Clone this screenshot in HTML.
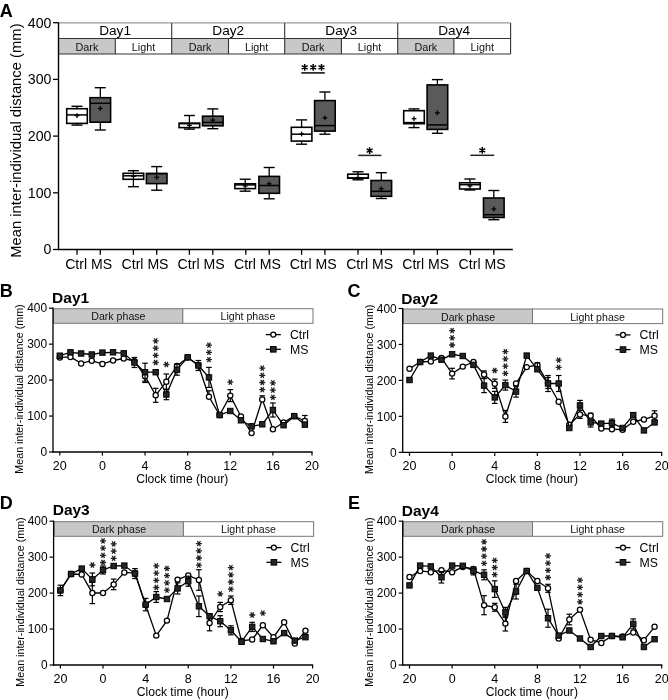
<!DOCTYPE html>
<html><head><meta charset="utf-8"><style>
html,body{margin:0;padding:0;background:#fff;}
svg{display:block;font-family:"Liberation Sans", sans-serif;will-change:transform;}
</style></head><body>
<svg width="668" height="700" viewBox="0 0 668 700" font-family='"Liberation Sans", sans-serif'>
<rect width="668" height="700" fill="#fff"/>
<text x="-0.3" y="16.6" font-size="18" text-anchor="start" font-weight="bold" fill="#000">A</text>
<text transform="translate(21 140.6) rotate(-90)" font-size="14.8" text-anchor="middle">Mean inter-individual distance (mm)</text>
<line x1="53" y1="249.5" x2="58.5" y2="249.5" stroke="#000" stroke-width="1.3"/>
<text x="51.5" y="254.4" font-size="14.2" text-anchor="end" font-weight="normal" fill="#000">0</text>
<line x1="53" y1="192.8" x2="58.5" y2="192.8" stroke="#000" stroke-width="1.3"/>
<text x="51.5" y="197.7" font-size="14.2" text-anchor="end" font-weight="normal" fill="#000">100</text>
<line x1="53" y1="136.1" x2="58.5" y2="136.1" stroke="#000" stroke-width="1.3"/>
<text x="51.5" y="141" font-size="14.2" text-anchor="end" font-weight="normal" fill="#000">200</text>
<line x1="53" y1="79.4" x2="58.5" y2="79.4" stroke="#000" stroke-width="1.3"/>
<text x="51.5" y="84.3" font-size="14.2" text-anchor="end" font-weight="normal" fill="#000">300</text>
<line x1="53" y1="22.7" x2="58.5" y2="22.7" stroke="#000" stroke-width="1.3"/>
<text x="51.5" y="27.6" font-size="14.2" text-anchor="end" font-weight="normal" fill="#000">400</text>
<rect x="58.5" y="38.5" width="56.8" height="15.5" fill="#c8c8c8" stroke="none" stroke-width="1.0"/>
<rect x="171.7" y="38.5" width="56.8" height="15.5" fill="#c8c8c8" stroke="none" stroke-width="1.0"/>
<rect x="284.7" y="38.5" width="56.7" height="15.5" fill="#c8c8c8" stroke="none" stroke-width="1.0"/>
<rect x="397.7" y="38.5" width="56.2" height="15.5" fill="#c8c8c8" stroke="none" stroke-width="1.0"/>
<line x1="58.5" y1="22.9" x2="510.6" y2="22.9" stroke="#9a9a9a" stroke-width="1.2"/>
<line x1="58.5" y1="38.5" x2="510.6" y2="38.5" stroke="#333" stroke-width="1.1"/>
<line x1="58.5" y1="54" x2="510.6" y2="54" stroke="#333" stroke-width="1.1"/>
<line x1="171.7" y1="22.9" x2="171.7" y2="54" stroke="#333" stroke-width="1.1"/>
<line x1="284.7" y1="22.9" x2="284.7" y2="54" stroke="#333" stroke-width="1.1"/>
<line x1="397.7" y1="22.9" x2="397.7" y2="54" stroke="#333" stroke-width="1.1"/>
<line x1="510.6" y1="22.9" x2="510.6" y2="54" stroke="#333" stroke-width="1.1"/>
<line x1="115.3" y1="38.5" x2="115.3" y2="54" stroke="#333" stroke-width="1.1"/>
<line x1="228.5" y1="38.5" x2="228.5" y2="54" stroke="#333" stroke-width="1.1"/>
<line x1="341.4" y1="38.5" x2="341.4" y2="54" stroke="#333" stroke-width="1.1"/>
<line x1="453.9" y1="38.5" x2="453.9" y2="54" stroke="#333" stroke-width="1.1"/>
<text x="115.1" y="34.7" font-size="13.6" text-anchor="middle" font-weight="normal" fill="#000">Day1</text>
<text x="86.9" y="50.6" font-size="10.8" text-anchor="middle" font-weight="normal" fill="#111">Dark</text>
<text x="143.5" y="50.6" font-size="10.8" text-anchor="middle" font-weight="normal" fill="#111">Light</text>
<text x="228.2" y="34.7" font-size="13.6" text-anchor="middle" font-weight="normal" fill="#000">Day2</text>
<text x="200.1" y="50.6" font-size="10.8" text-anchor="middle" font-weight="normal" fill="#111">Dark</text>
<text x="256.6" y="50.6" font-size="10.8" text-anchor="middle" font-weight="normal" fill="#111">Light</text>
<text x="341.2" y="34.7" font-size="13.6" text-anchor="middle" font-weight="normal" fill="#000">Day3</text>
<text x="313.05" y="50.6" font-size="10.8" text-anchor="middle" font-weight="normal" fill="#111">Dark</text>
<text x="369.55" y="50.6" font-size="10.8" text-anchor="middle" font-weight="normal" fill="#111">Light</text>
<text x="454.15" y="34.7" font-size="13.6" text-anchor="middle" font-weight="normal" fill="#000">Day4</text>
<text x="425.8" y="50.6" font-size="10.8" text-anchor="middle" font-weight="normal" fill="#111">Dark</text>
<text x="482.25" y="50.6" font-size="10.8" text-anchor="middle" font-weight="normal" fill="#111">Light</text>
<line x1="58.5" y1="22.3" x2="58.5" y2="250.1" stroke="#000" stroke-width="1.4"/>
<line x1="57.9" y1="249.5" x2="512.8" y2="249.5" stroke="#000" stroke-width="1.4"/>
<line x1="77" y1="249.5" x2="77" y2="254.8" stroke="#000" stroke-width="1.3"/>
<line x1="100.3" y1="249.5" x2="100.3" y2="254.8" stroke="#000" stroke-width="1.3"/>
<line x1="133.4" y1="249.5" x2="133.4" y2="254.8" stroke="#000" stroke-width="1.3"/>
<line x1="156.7" y1="249.5" x2="156.7" y2="254.8" stroke="#000" stroke-width="1.3"/>
<line x1="189.4" y1="249.5" x2="189.4" y2="254.8" stroke="#000" stroke-width="1.3"/>
<line x1="212.8" y1="249.5" x2="212.8" y2="254.8" stroke="#000" stroke-width="1.3"/>
<line x1="245.8" y1="249.5" x2="245.8" y2="254.8" stroke="#000" stroke-width="1.3"/>
<line x1="269.2" y1="249.5" x2="269.2" y2="254.8" stroke="#000" stroke-width="1.3"/>
<line x1="301.6" y1="249.5" x2="301.6" y2="254.8" stroke="#000" stroke-width="1.3"/>
<line x1="324.9" y1="249.5" x2="324.9" y2="254.8" stroke="#000" stroke-width="1.3"/>
<line x1="358" y1="249.5" x2="358" y2="254.8" stroke="#000" stroke-width="1.3"/>
<line x1="381.3" y1="249.5" x2="381.3" y2="254.8" stroke="#000" stroke-width="1.3"/>
<line x1="414" y1="249.5" x2="414" y2="254.8" stroke="#000" stroke-width="1.3"/>
<line x1="437.4" y1="249.5" x2="437.4" y2="254.8" stroke="#000" stroke-width="1.3"/>
<line x1="470.4" y1="249.5" x2="470.4" y2="254.8" stroke="#000" stroke-width="1.3"/>
<line x1="493.8" y1="249.5" x2="493.8" y2="254.8" stroke="#000" stroke-width="1.3"/>
<text x="88.65" y="269.1" font-size="14.1" text-anchor="middle" font-weight="normal" fill="#000">Ctrl MS</text>
<text x="145.05" y="269.1" font-size="14.1" text-anchor="middle" font-weight="normal" fill="#000">Ctrl MS</text>
<text x="201.1" y="269.1" font-size="14.1" text-anchor="middle" font-weight="normal" fill="#000">Ctrl MS</text>
<text x="257.5" y="269.1" font-size="14.1" text-anchor="middle" font-weight="normal" fill="#000">Ctrl MS</text>
<text x="313.25" y="269.1" font-size="14.1" text-anchor="middle" font-weight="normal" fill="#000">Ctrl MS</text>
<text x="369.65" y="269.1" font-size="14.1" text-anchor="middle" font-weight="normal" fill="#000">Ctrl MS</text>
<text x="425.7" y="269.1" font-size="14.1" text-anchor="middle" font-weight="normal" fill="#000">Ctrl MS</text>
<text x="482.1" y="269.1" font-size="14.1" text-anchor="middle" font-weight="normal" fill="#000">Ctrl MS</text>
<line x1="77" y1="106.3" x2="77" y2="108.7" stroke="#000" stroke-width="1.3"/>
<line x1="77" y1="123.4" x2="77" y2="125.1" stroke="#000" stroke-width="1.3"/>
<line x1="71.5" y1="106.3" x2="82.5" y2="106.3" stroke="#000" stroke-width="1.4"/>
<line x1="71.5" y1="125.1" x2="82.5" y2="125.1" stroke="#000" stroke-width="1.4"/>
<rect x="66.7" y="108.7" width="20.6" height="14.7" fill="#fff" stroke="#000" stroke-width="1.6"/>
<line x1="66.7" y1="114.9" x2="87.3" y2="114.9" stroke="#000" stroke-width="1.5"/>
<line x1="74.6" y1="115.6" x2="79.4" y2="115.6" stroke="#000" stroke-width="1.3"/>
<line x1="77" y1="113.2" x2="77" y2="118" stroke="#000" stroke-width="1.3"/>
<line x1="100.3" y1="87.7" x2="100.3" y2="97.7" stroke="#000" stroke-width="1.3"/>
<line x1="100.3" y1="122.2" x2="100.3" y2="130" stroke="#000" stroke-width="1.3"/>
<line x1="94.8" y1="87.7" x2="105.8" y2="87.7" stroke="#000" stroke-width="1.4"/>
<line x1="94.8" y1="130" x2="105.8" y2="130" stroke="#000" stroke-width="1.4"/>
<rect x="90" y="97.7" width="20.6" height="24.5" fill="#5a5a5a" stroke="#000" stroke-width="1.6"/>
<line x1="90" y1="103.3" x2="110.6" y2="103.3" stroke="#000" stroke-width="1.5"/>
<line x1="97.9" y1="108.5" x2="102.7" y2="108.5" stroke="#000" stroke-width="1.3"/>
<line x1="100.3" y1="106.1" x2="100.3" y2="110.9" stroke="#000" stroke-width="1.3"/>
<line x1="133.4" y1="170.7" x2="133.4" y2="173.3" stroke="#000" stroke-width="1.3"/>
<line x1="133.4" y1="179.3" x2="133.4" y2="186.7" stroke="#000" stroke-width="1.3"/>
<line x1="127.9" y1="170.7" x2="138.9" y2="170.7" stroke="#000" stroke-width="1.4"/>
<line x1="127.9" y1="186.7" x2="138.9" y2="186.7" stroke="#000" stroke-width="1.4"/>
<rect x="123.1" y="173.3" width="20.6" height="6" fill="#fff" stroke="#000" stroke-width="1.6"/>
<line x1="123.1" y1="175.8" x2="143.7" y2="175.8" stroke="#000" stroke-width="1.5"/>
<line x1="131" y1="176.4" x2="135.8" y2="176.4" stroke="#000" stroke-width="1.3"/>
<line x1="133.4" y1="174" x2="133.4" y2="178.8" stroke="#000" stroke-width="1.3"/>
<line x1="156.7" y1="166.6" x2="156.7" y2="173.5" stroke="#000" stroke-width="1.3"/>
<line x1="156.7" y1="183.6" x2="156.7" y2="190.2" stroke="#000" stroke-width="1.3"/>
<line x1="151.2" y1="166.6" x2="162.2" y2="166.6" stroke="#000" stroke-width="1.4"/>
<line x1="151.2" y1="190.2" x2="162.2" y2="190.2" stroke="#000" stroke-width="1.4"/>
<rect x="146.4" y="173.5" width="20.6" height="10.1" fill="#5a5a5a" stroke="#000" stroke-width="1.6"/>
<line x1="146.4" y1="173.6" x2="167" y2="173.6" stroke="#000" stroke-width="1.5"/>
<line x1="154.3" y1="177.3" x2="159.1" y2="177.3" stroke="#000" stroke-width="1.3"/>
<line x1="156.7" y1="174.9" x2="156.7" y2="179.7" stroke="#000" stroke-width="1.3"/>
<line x1="189.4" y1="115.5" x2="189.4" y2="123.1" stroke="#000" stroke-width="1.3"/>
<line x1="189.4" y1="127.6" x2="189.4" y2="129.1" stroke="#000" stroke-width="1.3"/>
<line x1="183.9" y1="115.5" x2="194.9" y2="115.5" stroke="#000" stroke-width="1.4"/>
<line x1="183.9" y1="129.1" x2="194.9" y2="129.1" stroke="#000" stroke-width="1.4"/>
<rect x="179.1" y="123.1" width="20.6" height="4.5" fill="#fff" stroke="#000" stroke-width="1.6"/>
<line x1="179.1" y1="123.7" x2="199.7" y2="123.7" stroke="#000" stroke-width="1.5"/>
<line x1="187" y1="125.3" x2="191.8" y2="125.3" stroke="#000" stroke-width="1.3"/>
<line x1="189.4" y1="122.9" x2="189.4" y2="127.7" stroke="#000" stroke-width="1.3"/>
<line x1="212.8" y1="108.9" x2="212.8" y2="116.2" stroke="#000" stroke-width="1.3"/>
<line x1="212.8" y1="125.8" x2="212.8" y2="128.7" stroke="#000" stroke-width="1.3"/>
<line x1="207.3" y1="108.9" x2="218.3" y2="108.9" stroke="#000" stroke-width="1.4"/>
<line x1="207.3" y1="128.7" x2="218.3" y2="128.7" stroke="#000" stroke-width="1.4"/>
<rect x="202.5" y="116.2" width="20.6" height="9.6" fill="#5a5a5a" stroke="#000" stroke-width="1.6"/>
<line x1="202.5" y1="122.4" x2="223.1" y2="122.4" stroke="#000" stroke-width="1.5"/>
<line x1="210.4" y1="120.1" x2="215.2" y2="120.1" stroke="#000" stroke-width="1.3"/>
<line x1="212.8" y1="117.7" x2="212.8" y2="122.5" stroke="#000" stroke-width="1.3"/>
<line x1="245.2" y1="179.2" x2="245.2" y2="183.8" stroke="#000" stroke-width="1.3"/>
<line x1="245.2" y1="188.6" x2="245.2" y2="191.2" stroke="#000" stroke-width="1.3"/>
<line x1="239.7" y1="179.2" x2="250.7" y2="179.2" stroke="#000" stroke-width="1.4"/>
<line x1="239.7" y1="191.2" x2="250.7" y2="191.2" stroke="#000" stroke-width="1.4"/>
<rect x="234.9" y="183.8" width="20.6" height="4.8" fill="#fff" stroke="#000" stroke-width="1.6"/>
<line x1="234.9" y1="184.9" x2="255.5" y2="184.9" stroke="#000" stroke-width="1.5"/>
<line x1="242.8" y1="186" x2="247.6" y2="186" stroke="#000" stroke-width="1.3"/>
<line x1="245.2" y1="183.6" x2="245.2" y2="188.4" stroke="#000" stroke-width="1.3"/>
<line x1="269.2" y1="167.5" x2="269.2" y2="176.4" stroke="#000" stroke-width="1.3"/>
<line x1="269.2" y1="193.3" x2="269.2" y2="198.8" stroke="#000" stroke-width="1.3"/>
<line x1="263.7" y1="167.5" x2="274.7" y2="167.5" stroke="#000" stroke-width="1.4"/>
<line x1="263.7" y1="198.8" x2="274.7" y2="198.8" stroke="#000" stroke-width="1.4"/>
<rect x="258.9" y="176.4" width="20.6" height="16.9" fill="#5a5a5a" stroke="#000" stroke-width="1.6"/>
<line x1="258.9" y1="185.5" x2="279.5" y2="185.5" stroke="#000" stroke-width="1.5"/>
<line x1="266.8" y1="183.8" x2="271.6" y2="183.8" stroke="#000" stroke-width="1.3"/>
<line x1="269.2" y1="181.4" x2="269.2" y2="186.2" stroke="#000" stroke-width="1.3"/>
<line x1="301.6" y1="119.9" x2="301.6" y2="127.3" stroke="#000" stroke-width="1.3"/>
<line x1="301.6" y1="141.1" x2="301.6" y2="144.2" stroke="#000" stroke-width="1.3"/>
<line x1="296.1" y1="119.9" x2="307.1" y2="119.9" stroke="#000" stroke-width="1.4"/>
<line x1="296.1" y1="144.2" x2="307.1" y2="144.2" stroke="#000" stroke-width="1.4"/>
<rect x="291.3" y="127.3" width="20.6" height="13.8" fill="#fff" stroke="#000" stroke-width="1.6"/>
<line x1="291.3" y1="134.2" x2="311.9" y2="134.2" stroke="#000" stroke-width="1.5"/>
<line x1="299.2" y1="134" x2="304" y2="134" stroke="#000" stroke-width="1.3"/>
<line x1="301.6" y1="131.6" x2="301.6" y2="136.4" stroke="#000" stroke-width="1.3"/>
<line x1="324.9" y1="92" x2="324.9" y2="100.6" stroke="#000" stroke-width="1.3"/>
<line x1="324.9" y1="131.1" x2="324.9" y2="134.2" stroke="#000" stroke-width="1.3"/>
<line x1="319.4" y1="92" x2="330.4" y2="92" stroke="#000" stroke-width="1.4"/>
<line x1="319.4" y1="134.2" x2="330.4" y2="134.2" stroke="#000" stroke-width="1.4"/>
<rect x="314.6" y="100.6" width="20.6" height="30.5" fill="#5a5a5a" stroke="#000" stroke-width="1.6"/>
<line x1="314.6" y1="125.6" x2="335.2" y2="125.6" stroke="#000" stroke-width="1.5"/>
<line x1="322.5" y1="117.8" x2="327.3" y2="117.8" stroke="#000" stroke-width="1.3"/>
<line x1="324.9" y1="115.4" x2="324.9" y2="120.2" stroke="#000" stroke-width="1.3"/>
<line x1="358" y1="171.8" x2="358" y2="174.2" stroke="#000" stroke-width="1.3"/>
<line x1="358" y1="178.2" x2="358" y2="179.8" stroke="#000" stroke-width="1.3"/>
<line x1="352.5" y1="171.8" x2="363.5" y2="171.8" stroke="#000" stroke-width="1.4"/>
<line x1="352.5" y1="179.8" x2="363.5" y2="179.8" stroke="#000" stroke-width="1.4"/>
<rect x="347.7" y="174.2" width="20.6" height="4" fill="#fff" stroke="#000" stroke-width="1.6"/>
<line x1="347.7" y1="177.9" x2="368.3" y2="177.9" stroke="#000" stroke-width="1.5"/>
<line x1="355.6" y1="177.5" x2="360.4" y2="177.5" stroke="#000" stroke-width="1.3"/>
<line x1="358" y1="175.1" x2="358" y2="179.9" stroke="#000" stroke-width="1.3"/>
<line x1="381.3" y1="172.7" x2="381.3" y2="180.5" stroke="#000" stroke-width="1.3"/>
<line x1="381.3" y1="196.3" x2="381.3" y2="198.5" stroke="#000" stroke-width="1.3"/>
<line x1="375.8" y1="172.7" x2="386.8" y2="172.7" stroke="#000" stroke-width="1.4"/>
<line x1="375.8" y1="198.5" x2="386.8" y2="198.5" stroke="#000" stroke-width="1.4"/>
<rect x="371" y="180.5" width="20.6" height="15.8" fill="#5a5a5a" stroke="#000" stroke-width="1.6"/>
<line x1="371" y1="191.3" x2="391.6" y2="191.3" stroke="#000" stroke-width="1.5"/>
<line x1="378.9" y1="188.7" x2="383.7" y2="188.7" stroke="#000" stroke-width="1.3"/>
<line x1="381.3" y1="186.3" x2="381.3" y2="191.1" stroke="#000" stroke-width="1.3"/>
<line x1="414" y1="108.9" x2="414" y2="110.7" stroke="#000" stroke-width="1.3"/>
<line x1="414" y1="123.7" x2="414" y2="127.6" stroke="#000" stroke-width="1.3"/>
<line x1="408.5" y1="108.9" x2="419.5" y2="108.9" stroke="#000" stroke-width="1.4"/>
<line x1="408.5" y1="127.6" x2="419.5" y2="127.6" stroke="#000" stroke-width="1.4"/>
<rect x="403.7" y="110.7" width="20.6" height="13" fill="#fff" stroke="#000" stroke-width="1.6"/>
<line x1="403.7" y1="122.6" x2="424.3" y2="122.6" stroke="#000" stroke-width="1.5"/>
<line x1="411.6" y1="118.7" x2="416.4" y2="118.7" stroke="#000" stroke-width="1.3"/>
<line x1="414" y1="116.3" x2="414" y2="121.1" stroke="#000" stroke-width="1.3"/>
<line x1="437.4" y1="79.6" x2="437.4" y2="84.9" stroke="#000" stroke-width="1.3"/>
<line x1="437.4" y1="129.4" x2="437.4" y2="133.3" stroke="#000" stroke-width="1.3"/>
<line x1="431.9" y1="79.6" x2="442.9" y2="79.6" stroke="#000" stroke-width="1.4"/>
<line x1="431.9" y1="133.3" x2="442.9" y2="133.3" stroke="#000" stroke-width="1.4"/>
<rect x="427.1" y="84.9" width="20.6" height="44.5" fill="#5a5a5a" stroke="#000" stroke-width="1.6"/>
<line x1="427.1" y1="124.9" x2="447.7" y2="124.9" stroke="#000" stroke-width="1.5"/>
<line x1="435" y1="112.8" x2="439.8" y2="112.8" stroke="#000" stroke-width="1.3"/>
<line x1="437.4" y1="110.4" x2="437.4" y2="115.2" stroke="#000" stroke-width="1.3"/>
<line x1="469.9" y1="179" x2="469.9" y2="182.8" stroke="#000" stroke-width="1.3"/>
<line x1="469.9" y1="189" x2="469.9" y2="190" stroke="#000" stroke-width="1.3"/>
<line x1="464.4" y1="179" x2="475.4" y2="179" stroke="#000" stroke-width="1.4"/>
<line x1="464.4" y1="190" x2="475.4" y2="190" stroke="#000" stroke-width="1.4"/>
<rect x="459.6" y="182.8" width="20.6" height="6.2" fill="#fff" stroke="#000" stroke-width="1.6"/>
<line x1="459.6" y1="184.7" x2="480.2" y2="184.7" stroke="#000" stroke-width="1.5"/>
<line x1="467.5" y1="186" x2="472.3" y2="186" stroke="#000" stroke-width="1.3"/>
<line x1="469.9" y1="183.6" x2="469.9" y2="188.4" stroke="#000" stroke-width="1.3"/>
<line x1="493.8" y1="190.5" x2="493.8" y2="198" stroke="#000" stroke-width="1.3"/>
<line x1="493.8" y1="217.5" x2="493.8" y2="219.7" stroke="#000" stroke-width="1.3"/>
<line x1="488.3" y1="190.5" x2="499.3" y2="190.5" stroke="#000" stroke-width="1.4"/>
<line x1="488.3" y1="219.7" x2="499.3" y2="219.7" stroke="#000" stroke-width="1.4"/>
<rect x="483.5" y="198" width="20.6" height="19.5" fill="#5a5a5a" stroke="#000" stroke-width="1.6"/>
<line x1="483.5" y1="214.7" x2="504.1" y2="214.7" stroke="#000" stroke-width="1.5"/>
<line x1="491.4" y1="209" x2="496.2" y2="209" stroke="#000" stroke-width="1.3"/>
<line x1="493.8" y1="206.6" x2="493.8" y2="211.4" stroke="#000" stroke-width="1.3"/>
<path d="M304.7 64L304.7 70.8M307.64 65.7L301.76 69.1M307.64 69.1L301.76 65.7" stroke="#000" stroke-width="1.5" fill="none"/>
<path d="M313.2 64L313.2 70.8M316.14 65.7L310.26 69.1M316.14 69.1L310.26 65.7" stroke="#000" stroke-width="1.5" fill="none"/>
<path d="M321.5 64L321.5 70.8M324.44 65.7L318.56 69.1M324.44 69.1L318.56 65.7" stroke="#000" stroke-width="1.5" fill="none"/>
<line x1="301.3" y1="72.9" x2="324.8" y2="72.9" stroke="#222" stroke-width="1.7"/>
<path d="M369.6 147.2L369.6 154M372.54 148.9L366.66 152.3M372.54 152.3L366.66 148.9" stroke="#000" stroke-width="1.5" fill="none"/>
<line x1="358.2" y1="155.4" x2="381.4" y2="155.4" stroke="#222" stroke-width="1.5"/>
<path d="M482.3 147L482.3 153.8M485.24 148.7L479.36 152.1M485.24 152.1L479.36 148.7" stroke="#000" stroke-width="1.5" fill="none"/>
<line x1="470.4" y1="155.3" x2="494.2" y2="155.3" stroke="#222" stroke-width="1.5"/>
<text x="-0.2" y="297" font-size="18" text-anchor="start" font-weight="bold" fill="#000">B</text>
<text x="52.1" y="302.7" font-size="15.5" text-anchor="start" font-weight="bold" fill="#000">Day1</text>
<text transform="translate(23 389) rotate(-90)" font-size="10.7" text-anchor="middle">Mean inter-individual distance (mm)</text>
<rect x="53.6" y="308.7" width="129.2" height="14.6" fill="#c8c8c8" stroke="#777" stroke-width="1.0"/>
<rect x="182.8" y="308.7" width="130.2" height="14.6" fill="#fff" stroke="#777" stroke-width="1.0"/>
<text x="118.4" y="320.3" font-size="10.6" text-anchor="middle" font-weight="normal" fill="#111">Dark phase</text>
<text x="247.9" y="320.3" font-size="10.6" text-anchor="middle" font-weight="normal" fill="#111">Light phase</text>
<line x1="53" y1="307.6" x2="53" y2="452.6" stroke="#000" stroke-width="1.3"/>
<line x1="52.4" y1="452" x2="312.6" y2="452" stroke="#000" stroke-width="1.3"/>
<line x1="49" y1="452" x2="53" y2="452" stroke="#000" stroke-width="1.2"/>
<text x="47" y="456.2" font-size="11.9" text-anchor="end" font-weight="normal" fill="#000">0</text>
<line x1="49" y1="416.05" x2="53" y2="416.05" stroke="#000" stroke-width="1.2"/>
<text x="47" y="420.25" font-size="11.9" text-anchor="end" font-weight="normal" fill="#000">100</text>
<line x1="49" y1="380.1" x2="53" y2="380.1" stroke="#000" stroke-width="1.2"/>
<text x="47" y="384.3" font-size="11.9" text-anchor="end" font-weight="normal" fill="#000">200</text>
<line x1="49" y1="344.15" x2="53" y2="344.15" stroke="#000" stroke-width="1.2"/>
<text x="47" y="348.35" font-size="11.9" text-anchor="end" font-weight="normal" fill="#000">300</text>
<line x1="49" y1="308.2" x2="53" y2="308.2" stroke="#000" stroke-width="1.2"/>
<text x="47" y="312.4" font-size="11.9" text-anchor="end" font-weight="normal" fill="#000">400</text>
<line x1="59.8" y1="452" x2="59.8" y2="455.6" stroke="#000" stroke-width="1.2"/>
<text x="59.8" y="469.5" font-size="12.5" text-anchor="middle" font-weight="normal" fill="#000">20</text>
<line x1="102.42" y1="452" x2="102.42" y2="455.6" stroke="#000" stroke-width="1.2"/>
<text x="102.42" y="469.5" font-size="12.5" text-anchor="middle" font-weight="normal" fill="#000">0</text>
<line x1="145.04" y1="452" x2="145.04" y2="455.6" stroke="#000" stroke-width="1.2"/>
<text x="145.04" y="469.5" font-size="12.5" text-anchor="middle" font-weight="normal" fill="#000">4</text>
<line x1="187.66" y1="452" x2="187.66" y2="455.6" stroke="#000" stroke-width="1.2"/>
<text x="187.66" y="469.5" font-size="12.5" text-anchor="middle" font-weight="normal" fill="#000">8</text>
<line x1="230.28" y1="452" x2="230.28" y2="455.6" stroke="#000" stroke-width="1.2"/>
<text x="230.28" y="469.5" font-size="12.5" text-anchor="middle" font-weight="normal" fill="#000">12</text>
<line x1="272.9" y1="452" x2="272.9" y2="455.6" stroke="#000" stroke-width="1.2"/>
<text x="272.9" y="469.5" font-size="12.5" text-anchor="middle" font-weight="normal" fill="#000">16</text>
<line x1="312" y1="452" x2="312" y2="455.6" stroke="#000" stroke-width="1.2"/>
<text x="312" y="469.5" font-size="12.5" text-anchor="middle" font-weight="normal" fill="#000">20</text>
<text x="182.2" y="483" font-size="12.1" text-anchor="middle" font-weight="normal" fill="#000">Clock time (hour)</text>
<line x1="145.04" y1="369.9" x2="145.04" y2="382.5" stroke="#000" stroke-width="1.2"/>
<line x1="142.24" y1="369.9" x2="147.84" y2="369.9" stroke="#000" stroke-width="1.2"/>
<line x1="142.24" y1="382.5" x2="147.84" y2="382.5" stroke="#000" stroke-width="1.2"/>
<line x1="155.69" y1="388.3" x2="155.69" y2="402.3" stroke="#000" stroke-width="1.2"/>
<line x1="152.89" y1="388.3" x2="158.5" y2="388.3" stroke="#000" stroke-width="1.2"/>
<line x1="152.89" y1="402.3" x2="158.5" y2="402.3" stroke="#000" stroke-width="1.2"/>
<line x1="166.35" y1="374" x2="166.35" y2="389.4" stroke="#000" stroke-width="1.2"/>
<line x1="163.55" y1="374" x2="169.15" y2="374" stroke="#000" stroke-width="1.2"/>
<line x1="163.55" y1="389.4" x2="169.15" y2="389.4" stroke="#000" stroke-width="1.2"/>
<line x1="208.97" y1="390.8" x2="208.97" y2="396.8" stroke="#000" stroke-width="1.2"/>
<line x1="206.17" y1="390.8" x2="211.77" y2="390.8" stroke="#000" stroke-width="1.2"/>
<line x1="230.28" y1="389.6" x2="230.28" y2="401.6" stroke="#000" stroke-width="1.2"/>
<line x1="227.48" y1="389.6" x2="233.08" y2="389.6" stroke="#000" stroke-width="1.2"/>
<line x1="227.48" y1="401.6" x2="233.08" y2="401.6" stroke="#000" stroke-width="1.2"/>
<line x1="262.25" y1="395.8" x2="262.25" y2="399.4" stroke="#000" stroke-width="1.2"/>
<line x1="259.44" y1="395.8" x2="265.05" y2="395.8" stroke="#000" stroke-width="1.2"/>
<line x1="304.87" y1="415.5" x2="304.87" y2="426.5" stroke="#000" stroke-width="1.2"/>
<line x1="302.06" y1="415.5" x2="307.67" y2="415.5" stroke="#000" stroke-width="1.2"/>
<line x1="302.06" y1="426.5" x2="307.67" y2="426.5" stroke="#000" stroke-width="1.2"/>
<polyline points="59.8,357.4 70.45,356.9 81.11,363.4 91.76,360.7 102.42,364 113.07,360.5 123.73,358.5 134.38,361.1 145.04,376.2 155.69,395.3 166.35,381.7 177,365.9 187.66,357.5 198.31,365 208.97,396.8 219.62,415 230.28,395.6 240.94,416.5 251.59,433.1 262.25,399.4 272.9,429.3 283.56,422.5 294.21,416 304.87,421" fill="none" stroke="#000" stroke-width="1.3"/>
<circle cx="59.8" cy="357.4" r="2.6" fill="#fff" stroke="#000" stroke-width="1.25"/>
<circle cx="70.45" cy="356.9" r="2.6" fill="#fff" stroke="#000" stroke-width="1.25"/>
<circle cx="81.11" cy="363.4" r="2.6" fill="#fff" stroke="#000" stroke-width="1.25"/>
<circle cx="91.76" cy="360.7" r="2.6" fill="#fff" stroke="#000" stroke-width="1.25"/>
<circle cx="102.42" cy="364" r="2.6" fill="#fff" stroke="#000" stroke-width="1.25"/>
<circle cx="113.07" cy="360.5" r="2.6" fill="#fff" stroke="#000" stroke-width="1.25"/>
<circle cx="123.73" cy="358.5" r="2.6" fill="#fff" stroke="#000" stroke-width="1.25"/>
<circle cx="134.38" cy="361.1" r="2.6" fill="#fff" stroke="#000" stroke-width="1.25"/>
<circle cx="145.04" cy="376.2" r="2.6" fill="#fff" stroke="#000" stroke-width="1.25"/>
<circle cx="155.69" cy="395.3" r="2.6" fill="#fff" stroke="#000" stroke-width="1.25"/>
<circle cx="166.35" cy="381.7" r="2.6" fill="#fff" stroke="#000" stroke-width="1.25"/>
<circle cx="177" cy="365.9" r="2.6" fill="#fff" stroke="#000" stroke-width="1.25"/>
<circle cx="187.66" cy="357.5" r="2.6" fill="#fff" stroke="#000" stroke-width="1.25"/>
<circle cx="198.31" cy="365" r="2.6" fill="#fff" stroke="#000" stroke-width="1.25"/>
<circle cx="208.97" cy="396.8" r="2.6" fill="#fff" stroke="#000" stroke-width="1.25"/>
<circle cx="219.62" cy="415" r="2.6" fill="#fff" stroke="#000" stroke-width="1.25"/>
<circle cx="230.28" cy="395.6" r="2.6" fill="#fff" stroke="#000" stroke-width="1.25"/>
<circle cx="240.94" cy="416.5" r="2.6" fill="#fff" stroke="#000" stroke-width="1.25"/>
<circle cx="251.59" cy="433.1" r="2.6" fill="#fff" stroke="#000" stroke-width="1.25"/>
<circle cx="262.25" cy="399.4" r="2.6" fill="#fff" stroke="#000" stroke-width="1.25"/>
<circle cx="272.9" cy="429.3" r="2.6" fill="#fff" stroke="#000" stroke-width="1.25"/>
<circle cx="283.56" cy="422.5" r="2.6" fill="#fff" stroke="#000" stroke-width="1.25"/>
<circle cx="294.21" cy="416" r="2.6" fill="#fff" stroke="#000" stroke-width="1.25"/>
<circle cx="304.87" cy="421" r="2.6" fill="#fff" stroke="#000" stroke-width="1.25"/>
<line x1="134.38" y1="357.5" x2="134.38" y2="367.5" stroke="#000" stroke-width="1.2"/>
<line x1="131.58" y1="357.5" x2="137.19" y2="357.5" stroke="#000" stroke-width="1.2"/>
<line x1="131.58" y1="367.5" x2="137.19" y2="367.5" stroke="#000" stroke-width="1.2"/>
<line x1="145.04" y1="363.2" x2="145.04" y2="381.2" stroke="#000" stroke-width="1.2"/>
<line x1="142.24" y1="363.2" x2="147.84" y2="363.2" stroke="#000" stroke-width="1.2"/>
<line x1="142.24" y1="381.2" x2="147.84" y2="381.2" stroke="#000" stroke-width="1.2"/>
<line x1="166.35" y1="389.3" x2="166.35" y2="399.7" stroke="#000" stroke-width="1.2"/>
<line x1="163.55" y1="389.3" x2="169.15" y2="389.3" stroke="#000" stroke-width="1.2"/>
<line x1="163.55" y1="399.7" x2="169.15" y2="399.7" stroke="#000" stroke-width="1.2"/>
<line x1="177" y1="364.2" x2="177" y2="375.2" stroke="#000" stroke-width="1.2"/>
<line x1="174.2" y1="364.2" x2="179.81" y2="364.2" stroke="#000" stroke-width="1.2"/>
<line x1="174.2" y1="375.2" x2="179.81" y2="375.2" stroke="#000" stroke-width="1.2"/>
<line x1="198.31" y1="360.5" x2="198.31" y2="370.5" stroke="#000" stroke-width="1.2"/>
<line x1="195.51" y1="360.5" x2="201.12" y2="360.5" stroke="#000" stroke-width="1.2"/>
<line x1="195.51" y1="370.5" x2="201.12" y2="370.5" stroke="#000" stroke-width="1.2"/>
<line x1="208.97" y1="367.4" x2="208.97" y2="387.4" stroke="#000" stroke-width="1.2"/>
<line x1="206.17" y1="367.4" x2="211.77" y2="367.4" stroke="#000" stroke-width="1.2"/>
<line x1="206.17" y1="387.4" x2="211.77" y2="387.4" stroke="#000" stroke-width="1.2"/>
<line x1="272.9" y1="403" x2="272.9" y2="417" stroke="#000" stroke-width="1.2"/>
<line x1="270.1" y1="403" x2="275.7" y2="403" stroke="#000" stroke-width="1.2"/>
<line x1="270.1" y1="417" x2="275.7" y2="417" stroke="#000" stroke-width="1.2"/>
<polyline points="59.8,355.7 70.45,352.3 81.11,353.5 91.76,354.5 102.42,352.6 113.07,352.3 123.73,353.3 134.38,362.5 145.04,372.2 155.69,372.2 166.35,394.5 177,369.7 187.66,357.3 198.31,365.5 208.97,377.4 219.62,415.1 230.28,411 240.94,420.3 251.59,426.3 262.25,424.3 272.9,410 283.56,425.2 294.21,416.2 304.87,424.6" fill="none" stroke="#000" stroke-width="1.3"/>
<rect x="57.1" y="353" width="5.4" height="5.4" fill="#262626" stroke="#000" stroke-width="1"/>
<rect x="67.75" y="349.6" width="5.4" height="5.4" fill="#262626" stroke="#000" stroke-width="1"/>
<rect x="78.41" y="350.8" width="5.4" height="5.4" fill="#262626" stroke="#000" stroke-width="1"/>
<rect x="89.06" y="351.8" width="5.4" height="5.4" fill="#262626" stroke="#000" stroke-width="1"/>
<rect x="99.72" y="349.9" width="5.4" height="5.4" fill="#262626" stroke="#000" stroke-width="1"/>
<rect x="110.37" y="349.6" width="5.4" height="5.4" fill="#262626" stroke="#000" stroke-width="1"/>
<rect x="121.03" y="350.6" width="5.4" height="5.4" fill="#262626" stroke="#000" stroke-width="1"/>
<rect x="131.69" y="359.8" width="5.4" height="5.4" fill="#262626" stroke="#000" stroke-width="1"/>
<rect x="142.34" y="369.5" width="5.4" height="5.4" fill="#262626" stroke="#000" stroke-width="1"/>
<rect x="153" y="369.5" width="5.4" height="5.4" fill="#262626" stroke="#000" stroke-width="1"/>
<rect x="163.65" y="391.8" width="5.4" height="5.4" fill="#262626" stroke="#000" stroke-width="1"/>
<rect x="174.31" y="367" width="5.4" height="5.4" fill="#262626" stroke="#000" stroke-width="1"/>
<rect x="184.96" y="354.6" width="5.4" height="5.4" fill="#262626" stroke="#000" stroke-width="1"/>
<rect x="195.62" y="362.8" width="5.4" height="5.4" fill="#262626" stroke="#000" stroke-width="1"/>
<rect x="206.27" y="374.7" width="5.4" height="5.4" fill="#262626" stroke="#000" stroke-width="1"/>
<rect x="216.93" y="412.4" width="5.4" height="5.4" fill="#262626" stroke="#000" stroke-width="1"/>
<rect x="227.58" y="408.3" width="5.4" height="5.4" fill="#262626" stroke="#000" stroke-width="1"/>
<rect x="238.24" y="417.6" width="5.4" height="5.4" fill="#262626" stroke="#000" stroke-width="1"/>
<rect x="248.89" y="423.6" width="5.4" height="5.4" fill="#262626" stroke="#000" stroke-width="1"/>
<rect x="259.55" y="421.6" width="5.4" height="5.4" fill="#262626" stroke="#000" stroke-width="1"/>
<rect x="270.2" y="407.3" width="5.4" height="5.4" fill="#262626" stroke="#000" stroke-width="1"/>
<rect x="280.86" y="422.5" width="5.4" height="5.4" fill="#262626" stroke="#000" stroke-width="1"/>
<rect x="291.51" y="413.5" width="5.4" height="5.4" fill="#262626" stroke="#000" stroke-width="1"/>
<rect x="302.17" y="421.9" width="5.4" height="5.4" fill="#262626" stroke="#000" stroke-width="1"/>
<path d="M152.69 340.9L158.69 340.9M154.19 338.3L157.19 343.5M157.19 338.3L154.19 343.5" stroke="#222" stroke-width="1.3" fill="none"/>
<path d="M152.69 348.1L158.69 348.1M154.19 345.5L157.19 350.7M157.19 345.5L154.19 350.7" stroke="#222" stroke-width="1.3" fill="none"/>
<path d="M152.69 355.3L158.69 355.3M154.19 352.7L157.19 357.9M157.19 352.7L154.19 357.9" stroke="#222" stroke-width="1.3" fill="none"/>
<path d="M152.69 362.5L158.69 362.5M154.19 359.9L157.19 365.1M157.19 359.9L154.19 365.1" stroke="#222" stroke-width="1.3" fill="none"/>
<path d="M163.35 364.5L169.35 364.5M164.85 361.9L167.85 367.1M167.85 361.9L164.85 367.1" stroke="#222" stroke-width="1.3" fill="none"/>
<path d="M205.97 345.2L211.97 345.2M207.47 342.6L210.47 347.8M210.47 342.6L207.47 347.8" stroke="#222" stroke-width="1.3" fill="none"/>
<path d="M205.97 352.4L211.97 352.4M207.47 349.8L210.47 355M210.47 349.8L207.47 355" stroke="#222" stroke-width="1.3" fill="none"/>
<path d="M205.97 359.6L211.97 359.6M207.47 357L210.47 362.2M210.47 357L207.47 362.2" stroke="#222" stroke-width="1.3" fill="none"/>
<path d="M227.28 382.2L233.28 382.2M228.78 379.6L231.78 384.8M231.78 379.6L228.78 384.8" stroke="#222" stroke-width="1.3" fill="none"/>
<path d="M259.25 368.1L265.25 368.1M260.75 365.5L263.75 370.7M263.75 365.5L260.75 370.7" stroke="#222" stroke-width="1.3" fill="none"/>
<path d="M259.25 375.3L265.25 375.3M260.75 372.7L263.75 377.9M263.75 372.7L260.75 377.9" stroke="#222" stroke-width="1.3" fill="none"/>
<path d="M259.25 382.5L265.25 382.5M260.75 379.9L263.75 385.1M263.75 379.9L260.75 385.1" stroke="#222" stroke-width="1.3" fill="none"/>
<path d="M259.25 389.7L265.25 389.7M260.75 387.1L263.75 392.3M263.75 387.1L260.75 392.3" stroke="#222" stroke-width="1.3" fill="none"/>
<path d="M269.9 382.9L275.9 382.9M271.4 380.3L274.4 385.5M274.4 380.3L271.4 385.5" stroke="#222" stroke-width="1.3" fill="none"/>
<path d="M269.9 390.1L275.9 390.1M271.4 387.5L274.4 392.7M274.4 387.5L271.4 392.7" stroke="#222" stroke-width="1.3" fill="none"/>
<path d="M269.9 397.3L275.9 397.3M271.4 394.7L274.4 399.9M274.4 394.7L271.4 399.9" stroke="#222" stroke-width="1.3" fill="none"/>
<line x1="265.8" y1="334.6" x2="280.8" y2="334.6" stroke="#000" stroke-width="1.3"/>
<circle cx="273.3" cy="334.6" r="2.5" fill="#fff" stroke="#000" stroke-width="1.3"/>
<line x1="265.8" y1="349.3" x2="280.8" y2="349.3" stroke="#000" stroke-width="1.3"/>
<rect x="270.5" y="346.5" width="5.6" height="5.6" fill="#262626" stroke="#000" stroke-width="1"/>
<text x="289.9" y="338.9" font-size="12.3" text-anchor="start" font-weight="normal" fill="#000">Ctrl</text>
<text x="289.9" y="353.6" font-size="12.3" text-anchor="start" font-weight="normal" fill="#000">MS</text>
<text x="347.4" y="297.4" font-size="18" text-anchor="start" font-weight="bold" fill="#000">C</text>
<text x="401.2" y="303.6" font-size="15.5" text-anchor="start" font-weight="bold" fill="#000">Day2</text>
<text transform="translate(372.7 389.3) rotate(-90)" font-size="10.7" text-anchor="middle">Mean inter-individual distance (mm)</text>
<rect x="403.3" y="309" width="129.2" height="14.6" fill="#c8c8c8" stroke="#777" stroke-width="1.0"/>
<rect x="532.5" y="309" width="130.2" height="14.6" fill="#fff" stroke="#777" stroke-width="1.0"/>
<text x="468.1" y="320.6" font-size="10.6" text-anchor="middle" font-weight="normal" fill="#111">Dark phase</text>
<text x="597.6" y="320.6" font-size="10.6" text-anchor="middle" font-weight="normal" fill="#111">Light phase</text>
<line x1="402.7" y1="307.9" x2="402.7" y2="452.9" stroke="#000" stroke-width="1.3"/>
<line x1="402.1" y1="452.3" x2="662.3" y2="452.3" stroke="#000" stroke-width="1.3"/>
<line x1="398.7" y1="452.3" x2="402.7" y2="452.3" stroke="#000" stroke-width="1.2"/>
<text x="396.7" y="456.5" font-size="11.9" text-anchor="end" font-weight="normal" fill="#000">0</text>
<line x1="398.7" y1="416.35" x2="402.7" y2="416.35" stroke="#000" stroke-width="1.2"/>
<text x="396.7" y="420.55" font-size="11.9" text-anchor="end" font-weight="normal" fill="#000">100</text>
<line x1="398.7" y1="380.4" x2="402.7" y2="380.4" stroke="#000" stroke-width="1.2"/>
<text x="396.7" y="384.6" font-size="11.9" text-anchor="end" font-weight="normal" fill="#000">200</text>
<line x1="398.7" y1="344.45" x2="402.7" y2="344.45" stroke="#000" stroke-width="1.2"/>
<text x="396.7" y="348.65" font-size="11.9" text-anchor="end" font-weight="normal" fill="#000">300</text>
<line x1="398.7" y1="308.5" x2="402.7" y2="308.5" stroke="#000" stroke-width="1.2"/>
<text x="396.7" y="312.7" font-size="11.9" text-anchor="end" font-weight="normal" fill="#000">400</text>
<line x1="409.5" y1="452.3" x2="409.5" y2="455.9" stroke="#000" stroke-width="1.2"/>
<text x="409.5" y="469.8" font-size="12.5" text-anchor="middle" font-weight="normal" fill="#000">20</text>
<line x1="452.12" y1="452.3" x2="452.12" y2="455.9" stroke="#000" stroke-width="1.2"/>
<text x="452.12" y="469.8" font-size="12.5" text-anchor="middle" font-weight="normal" fill="#000">0</text>
<line x1="494.74" y1="452.3" x2="494.74" y2="455.9" stroke="#000" stroke-width="1.2"/>
<text x="494.74" y="469.8" font-size="12.5" text-anchor="middle" font-weight="normal" fill="#000">4</text>
<line x1="537.36" y1="452.3" x2="537.36" y2="455.9" stroke="#000" stroke-width="1.2"/>
<text x="537.36" y="469.8" font-size="12.5" text-anchor="middle" font-weight="normal" fill="#000">8</text>
<line x1="579.98" y1="452.3" x2="579.98" y2="455.9" stroke="#000" stroke-width="1.2"/>
<text x="579.98" y="469.8" font-size="12.5" text-anchor="middle" font-weight="normal" fill="#000">12</text>
<line x1="622.6" y1="452.3" x2="622.6" y2="455.9" stroke="#000" stroke-width="1.2"/>
<text x="622.6" y="469.8" font-size="12.5" text-anchor="middle" font-weight="normal" fill="#000">16</text>
<line x1="661.7" y1="452.3" x2="661.7" y2="455.9" stroke="#000" stroke-width="1.2"/>
<text x="661.7" y="469.8" font-size="12.5" text-anchor="middle" font-weight="normal" fill="#000">20</text>
<text x="531.9" y="483.3" font-size="12.1" text-anchor="middle" font-weight="normal" fill="#000">Clock time (hour)</text>
<line x1="452.12" y1="368.3" x2="452.12" y2="378.9" stroke="#000" stroke-width="1.2"/>
<line x1="449.32" y1="368.3" x2="454.92" y2="368.3" stroke="#000" stroke-width="1.2"/>
<line x1="449.32" y1="378.9" x2="454.92" y2="378.9" stroke="#000" stroke-width="1.2"/>
<line x1="484.08" y1="370.9" x2="484.08" y2="378.1" stroke="#000" stroke-width="1.2"/>
<line x1="481.28" y1="370.9" x2="486.88" y2="370.9" stroke="#000" stroke-width="1.2"/>
<line x1="481.28" y1="378.1" x2="486.88" y2="378.1" stroke="#000" stroke-width="1.2"/>
<line x1="494.74" y1="379.1" x2="494.74" y2="388.3" stroke="#000" stroke-width="1.2"/>
<line x1="491.94" y1="379.1" x2="497.54" y2="379.1" stroke="#000" stroke-width="1.2"/>
<line x1="491.94" y1="388.3" x2="497.54" y2="388.3" stroke="#000" stroke-width="1.2"/>
<line x1="505.39" y1="410.4" x2="505.39" y2="422.4" stroke="#000" stroke-width="1.2"/>
<line x1="502.59" y1="410.4" x2="508.19" y2="410.4" stroke="#000" stroke-width="1.2"/>
<line x1="502.59" y1="422.4" x2="508.19" y2="422.4" stroke="#000" stroke-width="1.2"/>
<line x1="548.01" y1="377.5" x2="548.01" y2="388.5" stroke="#000" stroke-width="1.2"/>
<line x1="545.22" y1="377.5" x2="550.81" y2="377.5" stroke="#000" stroke-width="1.2"/>
<line x1="545.22" y1="388.5" x2="550.81" y2="388.5" stroke="#000" stroke-width="1.2"/>
<line x1="579.98" y1="410.4" x2="579.98" y2="418.4" stroke="#000" stroke-width="1.2"/>
<line x1="577.18" y1="410.4" x2="582.78" y2="410.4" stroke="#000" stroke-width="1.2"/>
<line x1="577.18" y1="418.4" x2="582.78" y2="418.4" stroke="#000" stroke-width="1.2"/>
<line x1="590.63" y1="413.2" x2="590.63" y2="415.8" stroke="#000" stroke-width="1.2"/>
<line x1="587.84" y1="413.2" x2="593.43" y2="413.2" stroke="#000" stroke-width="1.2"/>
<line x1="654.57" y1="410.8" x2="654.57" y2="420.8" stroke="#000" stroke-width="1.2"/>
<line x1="651.77" y1="410.8" x2="657.37" y2="410.8" stroke="#000" stroke-width="1.2"/>
<line x1="651.77" y1="420.8" x2="657.37" y2="420.8" stroke="#000" stroke-width="1.2"/>
<polyline points="409.5,368.8 420.15,362 430.81,361.4 441.46,358 452.12,373.6 462.77,366.6 473.43,362 484.08,374.5 494.74,383.7 505.39,416.4 516.05,383.4 526.71,367.1 537.36,365 548.01,383 558.67,401.8 569.33,424.8 579.98,414.4 590.63,415.8 601.29,428.5 611.94,429.2 622.6,429.7 633.25,421.7 643.91,419.5 654.57,415.8" fill="none" stroke="#000" stroke-width="1.3"/>
<circle cx="409.5" cy="368.8" r="2.6" fill="#fff" stroke="#000" stroke-width="1.25"/>
<circle cx="420.15" cy="362" r="2.6" fill="#fff" stroke="#000" stroke-width="1.25"/>
<circle cx="430.81" cy="361.4" r="2.6" fill="#fff" stroke="#000" stroke-width="1.25"/>
<circle cx="441.46" cy="358" r="2.6" fill="#fff" stroke="#000" stroke-width="1.25"/>
<circle cx="452.12" cy="373.6" r="2.6" fill="#fff" stroke="#000" stroke-width="1.25"/>
<circle cx="462.77" cy="366.6" r="2.6" fill="#fff" stroke="#000" stroke-width="1.25"/>
<circle cx="473.43" cy="362" r="2.6" fill="#fff" stroke="#000" stroke-width="1.25"/>
<circle cx="484.08" cy="374.5" r="2.6" fill="#fff" stroke="#000" stroke-width="1.25"/>
<circle cx="494.74" cy="383.7" r="2.6" fill="#fff" stroke="#000" stroke-width="1.25"/>
<circle cx="505.39" cy="416.4" r="2.6" fill="#fff" stroke="#000" stroke-width="1.25"/>
<circle cx="516.05" cy="383.4" r="2.6" fill="#fff" stroke="#000" stroke-width="1.25"/>
<circle cx="526.71" cy="367.1" r="2.6" fill="#fff" stroke="#000" stroke-width="1.25"/>
<circle cx="537.36" cy="365" r="2.6" fill="#fff" stroke="#000" stroke-width="1.25"/>
<circle cx="548.01" cy="383" r="2.6" fill="#fff" stroke="#000" stroke-width="1.25"/>
<circle cx="558.67" cy="401.8" r="2.6" fill="#fff" stroke="#000" stroke-width="1.25"/>
<circle cx="569.33" cy="424.8" r="2.6" fill="#fff" stroke="#000" stroke-width="1.25"/>
<circle cx="579.98" cy="414.4" r="2.6" fill="#fff" stroke="#000" stroke-width="1.25"/>
<circle cx="590.63" cy="415.8" r="2.6" fill="#fff" stroke="#000" stroke-width="1.25"/>
<circle cx="601.29" cy="428.5" r="2.6" fill="#fff" stroke="#000" stroke-width="1.25"/>
<circle cx="611.94" cy="429.2" r="2.6" fill="#fff" stroke="#000" stroke-width="1.25"/>
<circle cx="622.6" cy="429.7" r="2.6" fill="#fff" stroke="#000" stroke-width="1.25"/>
<circle cx="633.25" cy="421.7" r="2.6" fill="#fff" stroke="#000" stroke-width="1.25"/>
<circle cx="643.91" cy="419.5" r="2.6" fill="#fff" stroke="#000" stroke-width="1.25"/>
<circle cx="654.57" cy="415.8" r="2.6" fill="#fff" stroke="#000" stroke-width="1.25"/>
<line x1="484.08" y1="378.6" x2="484.08" y2="392.6" stroke="#000" stroke-width="1.2"/>
<line x1="481.28" y1="378.6" x2="486.88" y2="378.6" stroke="#000" stroke-width="1.2"/>
<line x1="481.28" y1="392.6" x2="486.88" y2="392.6" stroke="#000" stroke-width="1.2"/>
<line x1="494.74" y1="391.4" x2="494.74" y2="403.4" stroke="#000" stroke-width="1.2"/>
<line x1="491.94" y1="391.4" x2="497.54" y2="391.4" stroke="#000" stroke-width="1.2"/>
<line x1="491.94" y1="403.4" x2="497.54" y2="403.4" stroke="#000" stroke-width="1.2"/>
<line x1="505.39" y1="380.1" x2="505.39" y2="390.1" stroke="#000" stroke-width="1.2"/>
<line x1="502.59" y1="380.1" x2="508.19" y2="380.1" stroke="#000" stroke-width="1.2"/>
<line x1="502.59" y1="390.1" x2="508.19" y2="390.1" stroke="#000" stroke-width="1.2"/>
<line x1="516.05" y1="386.1" x2="516.05" y2="397.1" stroke="#000" stroke-width="1.2"/>
<line x1="513.25" y1="386.1" x2="518.85" y2="386.1" stroke="#000" stroke-width="1.2"/>
<line x1="513.25" y1="397.1" x2="518.85" y2="397.1" stroke="#000" stroke-width="1.2"/>
<line x1="537.36" y1="362.8" x2="537.36" y2="369.3" stroke="#000" stroke-width="1.2"/>
<line x1="534.56" y1="362.8" x2="540.16" y2="362.8" stroke="#000" stroke-width="1.2"/>
<line x1="548.01" y1="375.5" x2="548.01" y2="391.5" stroke="#000" stroke-width="1.2"/>
<line x1="545.22" y1="375.5" x2="550.81" y2="375.5" stroke="#000" stroke-width="1.2"/>
<line x1="545.22" y1="391.5" x2="550.81" y2="391.5" stroke="#000" stroke-width="1.2"/>
<line x1="558.67" y1="375.5" x2="558.67" y2="391.5" stroke="#000" stroke-width="1.2"/>
<line x1="555.87" y1="375.5" x2="561.47" y2="375.5" stroke="#000" stroke-width="1.2"/>
<line x1="555.87" y1="391.5" x2="561.47" y2="391.5" stroke="#000" stroke-width="1.2"/>
<line x1="579.98" y1="400.4" x2="579.98" y2="410.4" stroke="#000" stroke-width="1.2"/>
<line x1="577.18" y1="400.4" x2="582.78" y2="400.4" stroke="#000" stroke-width="1.2"/>
<line x1="577.18" y1="410.4" x2="582.78" y2="410.4" stroke="#000" stroke-width="1.2"/>
<line x1="590.63" y1="422.4" x2="590.63" y2="427" stroke="#000" stroke-width="1.2"/>
<line x1="587.84" y1="427" x2="593.43" y2="427" stroke="#000" stroke-width="1.2"/>
<line x1="611.94" y1="419.1" x2="611.94" y2="427.1" stroke="#000" stroke-width="1.2"/>
<line x1="609.14" y1="419.1" x2="614.74" y2="419.1" stroke="#000" stroke-width="1.2"/>
<line x1="609.14" y1="427.1" x2="614.74" y2="427.1" stroke="#000" stroke-width="1.2"/>
<polyline points="409.5,380 420.15,362 430.81,355.6 441.46,359.7 452.12,354.3 462.77,356 473.43,364.9 484.08,385.6 494.74,397.4 505.39,385.1 516.05,391.6 526.71,355.6 537.36,369.3 548.01,383.5 558.67,383.5 569.33,428 579.98,405.4 590.63,422.4 601.29,423.6 611.94,423.1 622.6,428 633.25,415.1 643.91,430.4 654.57,422.4" fill="none" stroke="#000" stroke-width="1.3"/>
<rect x="406.8" y="377.3" width="5.4" height="5.4" fill="#262626" stroke="#000" stroke-width="1"/>
<rect x="417.45" y="359.3" width="5.4" height="5.4" fill="#262626" stroke="#000" stroke-width="1"/>
<rect x="428.11" y="352.9" width="5.4" height="5.4" fill="#262626" stroke="#000" stroke-width="1"/>
<rect x="438.76" y="357" width="5.4" height="5.4" fill="#262626" stroke="#000" stroke-width="1"/>
<rect x="449.42" y="351.6" width="5.4" height="5.4" fill="#262626" stroke="#000" stroke-width="1"/>
<rect x="460.07" y="353.3" width="5.4" height="5.4" fill="#262626" stroke="#000" stroke-width="1"/>
<rect x="470.73" y="362.2" width="5.4" height="5.4" fill="#262626" stroke="#000" stroke-width="1"/>
<rect x="481.38" y="382.9" width="5.4" height="5.4" fill="#262626" stroke="#000" stroke-width="1"/>
<rect x="492.04" y="394.7" width="5.4" height="5.4" fill="#262626" stroke="#000" stroke-width="1"/>
<rect x="502.69" y="382.4" width="5.4" height="5.4" fill="#262626" stroke="#000" stroke-width="1"/>
<rect x="513.35" y="388.9" width="5.4" height="5.4" fill="#262626" stroke="#000" stroke-width="1"/>
<rect x="524" y="352.9" width="5.4" height="5.4" fill="#262626" stroke="#000" stroke-width="1"/>
<rect x="534.66" y="366.6" width="5.4" height="5.4" fill="#262626" stroke="#000" stroke-width="1"/>
<rect x="545.31" y="380.8" width="5.4" height="5.4" fill="#262626" stroke="#000" stroke-width="1"/>
<rect x="555.97" y="380.8" width="5.4" height="5.4" fill="#262626" stroke="#000" stroke-width="1"/>
<rect x="566.62" y="425.3" width="5.4" height="5.4" fill="#262626" stroke="#000" stroke-width="1"/>
<rect x="577.28" y="402.7" width="5.4" height="5.4" fill="#262626" stroke="#000" stroke-width="1"/>
<rect x="587.93" y="419.7" width="5.4" height="5.4" fill="#262626" stroke="#000" stroke-width="1"/>
<rect x="598.59" y="420.9" width="5.4" height="5.4" fill="#262626" stroke="#000" stroke-width="1"/>
<rect x="609.24" y="420.4" width="5.4" height="5.4" fill="#262626" stroke="#000" stroke-width="1"/>
<rect x="619.9" y="425.3" width="5.4" height="5.4" fill="#262626" stroke="#000" stroke-width="1"/>
<rect x="630.55" y="412.4" width="5.4" height="5.4" fill="#262626" stroke="#000" stroke-width="1"/>
<rect x="641.21" y="427.7" width="5.4" height="5.4" fill="#262626" stroke="#000" stroke-width="1"/>
<rect x="651.87" y="419.7" width="5.4" height="5.4" fill="#262626" stroke="#000" stroke-width="1"/>
<path d="M449.12 330.6L455.12 330.6M450.62 328L453.62 333.2M453.62 328L450.62 333.2" stroke="#222" stroke-width="1.3" fill="none"/>
<path d="M449.12 337.8L455.12 337.8M450.62 335.2L453.62 340.4M453.62 335.2L450.62 340.4" stroke="#222" stroke-width="1.3" fill="none"/>
<path d="M449.12 345L455.12 345M450.62 342.4L453.62 347.6M453.62 342.4L450.62 347.6" stroke="#222" stroke-width="1.3" fill="none"/>
<path d="M491.74 370.5L497.74 370.5M493.24 367.9L496.24 373.1M496.24 367.9L493.24 373.1" stroke="#222" stroke-width="1.3" fill="none"/>
<path d="M502.39 351.7L508.39 351.7M503.89 349.1L506.89 354.3M506.89 349.1L503.89 354.3" stroke="#222" stroke-width="1.3" fill="none"/>
<path d="M502.39 358.9L508.39 358.9M503.89 356.3L506.89 361.5M506.89 356.3L503.89 361.5" stroke="#222" stroke-width="1.3" fill="none"/>
<path d="M502.39 366.1L508.39 366.1M503.89 363.5L506.89 368.7M506.89 363.5L503.89 368.7" stroke="#222" stroke-width="1.3" fill="none"/>
<path d="M502.39 373.3L508.39 373.3M503.89 370.7L506.89 375.9M506.89 370.7L503.89 375.9" stroke="#222" stroke-width="1.3" fill="none"/>
<path d="M555.67 360.2L561.67 360.2M557.17 357.6L560.17 362.8M560.17 357.6L557.17 362.8" stroke="#222" stroke-width="1.3" fill="none"/>
<path d="M555.67 367.4L561.67 367.4M557.17 364.8L560.17 370M560.17 364.8L557.17 370" stroke="#222" stroke-width="1.3" fill="none"/>
<line x1="615.5" y1="334.9" x2="630.5" y2="334.9" stroke="#000" stroke-width="1.3"/>
<circle cx="623" cy="334.9" r="2.5" fill="#fff" stroke="#000" stroke-width="1.3"/>
<line x1="615.5" y1="349.6" x2="630.5" y2="349.6" stroke="#000" stroke-width="1.3"/>
<rect x="620.2" y="346.8" width="5.6" height="5.6" fill="#262626" stroke="#000" stroke-width="1"/>
<text x="639.6" y="339.2" font-size="12.3" text-anchor="start" font-weight="normal" fill="#000">Ctrl</text>
<text x="639.6" y="353.9" font-size="12.3" text-anchor="start" font-weight="normal" fill="#000">MS</text>
<text x="-0.2" y="509.4" font-size="18" text-anchor="start" font-weight="bold" fill="#000">D</text>
<text x="52.7" y="514.7" font-size="15.5" text-anchor="start" font-weight="bold" fill="#000">Day3</text>
<text transform="translate(23.6 602) rotate(-90)" font-size="10.7" text-anchor="middle">Mean inter-individual distance (mm)</text>
<rect x="54.2" y="521.7" width="129.2" height="14.6" fill="#c8c8c8" stroke="#777" stroke-width="1.0"/>
<rect x="183.4" y="521.7" width="130.2" height="14.6" fill="#fff" stroke="#777" stroke-width="1.0"/>
<text x="119" y="533.3" font-size="10.6" text-anchor="middle" font-weight="normal" fill="#111">Dark phase</text>
<text x="248.5" y="533.3" font-size="10.6" text-anchor="middle" font-weight="normal" fill="#111">Light phase</text>
<line x1="53.6" y1="520.6" x2="53.6" y2="665.6" stroke="#000" stroke-width="1.3"/>
<line x1="53" y1="665" x2="313.2" y2="665" stroke="#000" stroke-width="1.3"/>
<line x1="49.6" y1="665" x2="53.6" y2="665" stroke="#000" stroke-width="1.2"/>
<text x="47.6" y="669.2" font-size="11.9" text-anchor="end" font-weight="normal" fill="#000">0</text>
<line x1="49.6" y1="629.05" x2="53.6" y2="629.05" stroke="#000" stroke-width="1.2"/>
<text x="47.6" y="633.25" font-size="11.9" text-anchor="end" font-weight="normal" fill="#000">100</text>
<line x1="49.6" y1="593.1" x2="53.6" y2="593.1" stroke="#000" stroke-width="1.2"/>
<text x="47.6" y="597.3" font-size="11.9" text-anchor="end" font-weight="normal" fill="#000">200</text>
<line x1="49.6" y1="557.15" x2="53.6" y2="557.15" stroke="#000" stroke-width="1.2"/>
<text x="47.6" y="561.35" font-size="11.9" text-anchor="end" font-weight="normal" fill="#000">300</text>
<line x1="49.6" y1="521.2" x2="53.6" y2="521.2" stroke="#000" stroke-width="1.2"/>
<text x="47.6" y="525.4" font-size="11.9" text-anchor="end" font-weight="normal" fill="#000">400</text>
<line x1="60.4" y1="665" x2="60.4" y2="668.6" stroke="#000" stroke-width="1.2"/>
<text x="60.4" y="682.5" font-size="12.5" text-anchor="middle" font-weight="normal" fill="#000">20</text>
<line x1="103.02" y1="665" x2="103.02" y2="668.6" stroke="#000" stroke-width="1.2"/>
<text x="103.02" y="682.5" font-size="12.5" text-anchor="middle" font-weight="normal" fill="#000">0</text>
<line x1="145.64" y1="665" x2="145.64" y2="668.6" stroke="#000" stroke-width="1.2"/>
<text x="145.64" y="682.5" font-size="12.5" text-anchor="middle" font-weight="normal" fill="#000">4</text>
<line x1="188.26" y1="665" x2="188.26" y2="668.6" stroke="#000" stroke-width="1.2"/>
<text x="188.26" y="682.5" font-size="12.5" text-anchor="middle" font-weight="normal" fill="#000">8</text>
<line x1="230.88" y1="665" x2="230.88" y2="668.6" stroke="#000" stroke-width="1.2"/>
<text x="230.88" y="682.5" font-size="12.5" text-anchor="middle" font-weight="normal" fill="#000">12</text>
<line x1="273.5" y1="665" x2="273.5" y2="668.6" stroke="#000" stroke-width="1.2"/>
<text x="273.5" y="682.5" font-size="12.5" text-anchor="middle" font-weight="normal" fill="#000">16</text>
<line x1="312.6" y1="665" x2="312.6" y2="668.6" stroke="#000" stroke-width="1.2"/>
<text x="312.6" y="682.5" font-size="12.5" text-anchor="middle" font-weight="normal" fill="#000">20</text>
<text x="182.8" y="696" font-size="12.1" text-anchor="middle" font-weight="normal" fill="#000">Clock time (hour)</text>
<line x1="92.36" y1="582.4" x2="92.36" y2="603.6" stroke="#000" stroke-width="1.2"/>
<line x1="89.56" y1="582.4" x2="95.16" y2="582.4" stroke="#000" stroke-width="1.2"/>
<line x1="89.56" y1="603.6" x2="95.16" y2="603.6" stroke="#000" stroke-width="1.2"/>
<line x1="113.67" y1="579.1" x2="113.67" y2="589.7" stroke="#000" stroke-width="1.2"/>
<line x1="110.88" y1="579.1" x2="116.47" y2="579.1" stroke="#000" stroke-width="1.2"/>
<line x1="110.88" y1="589.7" x2="116.47" y2="589.7" stroke="#000" stroke-width="1.2"/>
<line x1="198.91" y1="569.7" x2="198.91" y2="590.3" stroke="#000" stroke-width="1.2"/>
<line x1="196.11" y1="569.7" x2="201.72" y2="569.7" stroke="#000" stroke-width="1.2"/>
<line x1="196.11" y1="590.3" x2="201.72" y2="590.3" stroke="#000" stroke-width="1.2"/>
<line x1="209.57" y1="615.2" x2="209.57" y2="630.8" stroke="#000" stroke-width="1.2"/>
<line x1="206.77" y1="615.2" x2="212.37" y2="615.2" stroke="#000" stroke-width="1.2"/>
<line x1="206.77" y1="630.8" x2="212.37" y2="630.8" stroke="#000" stroke-width="1.2"/>
<line x1="220.22" y1="602.4" x2="220.22" y2="611.6" stroke="#000" stroke-width="1.2"/>
<line x1="217.42" y1="602.4" x2="223.03" y2="602.4" stroke="#000" stroke-width="1.2"/>
<line x1="217.42" y1="611.6" x2="223.03" y2="611.6" stroke="#000" stroke-width="1.2"/>
<line x1="230.88" y1="596" x2="230.88" y2="604.4" stroke="#000" stroke-width="1.2"/>
<line x1="228.08" y1="596" x2="233.68" y2="596" stroke="#000" stroke-width="1.2"/>
<line x1="228.08" y1="604.4" x2="233.68" y2="604.4" stroke="#000" stroke-width="1.2"/>
<polyline points="60.4,590.4 71.05,574 81.71,574.4 92.36,593 103.02,593 113.67,584.4 124.33,572.4 134.98,573 145.64,605 156.29,635.6 166.95,620.6 177.6,579.6 188.26,575.5 198.91,580 209.57,623 220.22,607 230.88,600.2 241.53,641 252.19,639.5 262.84,625.3 273.5,637.2 284.15,622.3 294.81,643.6 305.46,630.8" fill="none" stroke="#000" stroke-width="1.3"/>
<circle cx="60.4" cy="590.4" r="2.6" fill="#fff" stroke="#000" stroke-width="1.25"/>
<circle cx="71.05" cy="574" r="2.6" fill="#fff" stroke="#000" stroke-width="1.25"/>
<circle cx="81.71" cy="574.4" r="2.6" fill="#fff" stroke="#000" stroke-width="1.25"/>
<circle cx="92.36" cy="593" r="2.6" fill="#fff" stroke="#000" stroke-width="1.25"/>
<circle cx="103.02" cy="593" r="2.6" fill="#fff" stroke="#000" stroke-width="1.25"/>
<circle cx="113.67" cy="584.4" r="2.6" fill="#fff" stroke="#000" stroke-width="1.25"/>
<circle cx="124.33" cy="572.4" r="2.6" fill="#fff" stroke="#000" stroke-width="1.25"/>
<circle cx="134.98" cy="573" r="2.6" fill="#fff" stroke="#000" stroke-width="1.25"/>
<circle cx="145.64" cy="605" r="2.6" fill="#fff" stroke="#000" stroke-width="1.25"/>
<circle cx="156.29" cy="635.6" r="2.6" fill="#fff" stroke="#000" stroke-width="1.25"/>
<circle cx="166.95" cy="620.6" r="2.6" fill="#fff" stroke="#000" stroke-width="1.25"/>
<circle cx="177.6" cy="579.6" r="2.6" fill="#fff" stroke="#000" stroke-width="1.25"/>
<circle cx="188.26" cy="575.5" r="2.6" fill="#fff" stroke="#000" stroke-width="1.25"/>
<circle cx="198.91" cy="580" r="2.6" fill="#fff" stroke="#000" stroke-width="1.25"/>
<circle cx="209.57" cy="623" r="2.6" fill="#fff" stroke="#000" stroke-width="1.25"/>
<circle cx="220.22" cy="607" r="2.6" fill="#fff" stroke="#000" stroke-width="1.25"/>
<circle cx="230.88" cy="600.2" r="2.6" fill="#fff" stroke="#000" stroke-width="1.25"/>
<circle cx="241.53" cy="641" r="2.6" fill="#fff" stroke="#000" stroke-width="1.25"/>
<circle cx="252.19" cy="639.5" r="2.6" fill="#fff" stroke="#000" stroke-width="1.25"/>
<circle cx="262.84" cy="625.3" r="2.6" fill="#fff" stroke="#000" stroke-width="1.25"/>
<circle cx="273.5" cy="637.2" r="2.6" fill="#fff" stroke="#000" stroke-width="1.25"/>
<circle cx="284.15" cy="622.3" r="2.6" fill="#fff" stroke="#000" stroke-width="1.25"/>
<circle cx="294.81" cy="643.6" r="2.6" fill="#fff" stroke="#000" stroke-width="1.25"/>
<circle cx="305.46" cy="630.8" r="2.6" fill="#fff" stroke="#000" stroke-width="1.25"/>
<line x1="60.4" y1="585.2" x2="60.4" y2="595.6" stroke="#000" stroke-width="1.2"/>
<line x1="57.6" y1="585.2" x2="63.2" y2="585.2" stroke="#000" stroke-width="1.2"/>
<line x1="57.6" y1="595.6" x2="63.2" y2="595.6" stroke="#000" stroke-width="1.2"/>
<line x1="92.36" y1="573" x2="92.36" y2="585.8" stroke="#000" stroke-width="1.2"/>
<line x1="89.56" y1="573" x2="95.16" y2="573" stroke="#000" stroke-width="1.2"/>
<line x1="89.56" y1="585.8" x2="95.16" y2="585.8" stroke="#000" stroke-width="1.2"/>
<line x1="103.02" y1="566" x2="103.02" y2="574" stroke="#000" stroke-width="1.2"/>
<line x1="100.22" y1="566" x2="105.82" y2="566" stroke="#000" stroke-width="1.2"/>
<line x1="100.22" y1="574" x2="105.82" y2="574" stroke="#000" stroke-width="1.2"/>
<line x1="134.98" y1="568.6" x2="134.98" y2="578.6" stroke="#000" stroke-width="1.2"/>
<line x1="132.18" y1="568.6" x2="137.78" y2="568.6" stroke="#000" stroke-width="1.2"/>
<line x1="132.18" y1="578.6" x2="137.78" y2="578.6" stroke="#000" stroke-width="1.2"/>
<line x1="145.64" y1="598.4" x2="145.64" y2="610.8" stroke="#000" stroke-width="1.2"/>
<line x1="142.84" y1="598.4" x2="148.44" y2="598.4" stroke="#000" stroke-width="1.2"/>
<line x1="142.84" y1="610.8" x2="148.44" y2="610.8" stroke="#000" stroke-width="1.2"/>
<line x1="156.29" y1="591.6" x2="156.29" y2="602.4" stroke="#000" stroke-width="1.2"/>
<line x1="153.49" y1="591.6" x2="159.09" y2="591.6" stroke="#000" stroke-width="1.2"/>
<line x1="153.49" y1="602.4" x2="159.09" y2="602.4" stroke="#000" stroke-width="1.2"/>
<line x1="177.6" y1="582.8" x2="177.6" y2="594" stroke="#000" stroke-width="1.2"/>
<line x1="174.8" y1="582.8" x2="180.41" y2="582.8" stroke="#000" stroke-width="1.2"/>
<line x1="174.8" y1="594" x2="180.41" y2="594" stroke="#000" stroke-width="1.2"/>
<line x1="188.26" y1="576.2" x2="188.26" y2="586.2" stroke="#000" stroke-width="1.2"/>
<line x1="185.46" y1="576.2" x2="191.06" y2="576.2" stroke="#000" stroke-width="1.2"/>
<line x1="185.46" y1="586.2" x2="191.06" y2="586.2" stroke="#000" stroke-width="1.2"/>
<line x1="198.91" y1="596" x2="198.91" y2="616.6" stroke="#000" stroke-width="1.2"/>
<line x1="196.11" y1="596" x2="201.72" y2="596" stroke="#000" stroke-width="1.2"/>
<line x1="196.11" y1="616.6" x2="201.72" y2="616.6" stroke="#000" stroke-width="1.2"/>
<line x1="220.22" y1="615.7" x2="220.22" y2="626.7" stroke="#000" stroke-width="1.2"/>
<line x1="217.42" y1="615.7" x2="223.03" y2="615.7" stroke="#000" stroke-width="1.2"/>
<line x1="217.42" y1="626.7" x2="223.03" y2="626.7" stroke="#000" stroke-width="1.2"/>
<line x1="230.88" y1="625.8" x2="230.88" y2="634.8" stroke="#000" stroke-width="1.2"/>
<line x1="228.08" y1="625.8" x2="233.68" y2="625.8" stroke="#000" stroke-width="1.2"/>
<line x1="228.08" y1="634.8" x2="233.68" y2="634.8" stroke="#000" stroke-width="1.2"/>
<line x1="252.19" y1="622.3" x2="252.19" y2="631.5" stroke="#000" stroke-width="1.2"/>
<line x1="249.39" y1="622.3" x2="254.99" y2="622.3" stroke="#000" stroke-width="1.2"/>
<line x1="249.39" y1="631.5" x2="254.99" y2="631.5" stroke="#000" stroke-width="1.2"/>
<polyline points="60.4,590.4 71.05,574 81.71,568.6 92.36,579.4 103.02,570 113.67,566 124.33,565.6 134.98,573.6 145.64,604.6 156.29,597 166.95,599 177.6,588.4 188.26,581.2 198.91,606.3 209.57,616.2 220.22,621.2 230.88,630.3 241.53,641.8 252.19,626.9 262.84,639 273.5,641.3 284.15,633.1 294.81,640.6 305.46,637.2" fill="none" stroke="#000" stroke-width="1.3"/>
<rect x="57.7" y="587.7" width="5.4" height="5.4" fill="#262626" stroke="#000" stroke-width="1"/>
<rect x="68.35" y="571.3" width="5.4" height="5.4" fill="#262626" stroke="#000" stroke-width="1"/>
<rect x="79.01" y="565.9" width="5.4" height="5.4" fill="#262626" stroke="#000" stroke-width="1"/>
<rect x="89.66" y="576.7" width="5.4" height="5.4" fill="#262626" stroke="#000" stroke-width="1"/>
<rect x="100.32" y="567.3" width="5.4" height="5.4" fill="#262626" stroke="#000" stroke-width="1"/>
<rect x="110.97" y="563.3" width="5.4" height="5.4" fill="#262626" stroke="#000" stroke-width="1"/>
<rect x="121.63" y="562.9" width="5.4" height="5.4" fill="#262626" stroke="#000" stroke-width="1"/>
<rect x="132.28" y="570.9" width="5.4" height="5.4" fill="#262626" stroke="#000" stroke-width="1"/>
<rect x="142.94" y="601.9" width="5.4" height="5.4" fill="#262626" stroke="#000" stroke-width="1"/>
<rect x="153.59" y="594.3" width="5.4" height="5.4" fill="#262626" stroke="#000" stroke-width="1"/>
<rect x="164.25" y="596.3" width="5.4" height="5.4" fill="#262626" stroke="#000" stroke-width="1"/>
<rect x="174.91" y="585.7" width="5.4" height="5.4" fill="#262626" stroke="#000" stroke-width="1"/>
<rect x="185.56" y="578.5" width="5.4" height="5.4" fill="#262626" stroke="#000" stroke-width="1"/>
<rect x="196.22" y="603.6" width="5.4" height="5.4" fill="#262626" stroke="#000" stroke-width="1"/>
<rect x="206.87" y="613.5" width="5.4" height="5.4" fill="#262626" stroke="#000" stroke-width="1"/>
<rect x="217.53" y="618.5" width="5.4" height="5.4" fill="#262626" stroke="#000" stroke-width="1"/>
<rect x="228.18" y="627.6" width="5.4" height="5.4" fill="#262626" stroke="#000" stroke-width="1"/>
<rect x="238.84" y="639.1" width="5.4" height="5.4" fill="#262626" stroke="#000" stroke-width="1"/>
<rect x="249.49" y="624.2" width="5.4" height="5.4" fill="#262626" stroke="#000" stroke-width="1"/>
<rect x="260.14" y="636.3" width="5.4" height="5.4" fill="#262626" stroke="#000" stroke-width="1"/>
<rect x="270.8" y="638.6" width="5.4" height="5.4" fill="#262626" stroke="#000" stroke-width="1"/>
<rect x="281.45" y="630.4" width="5.4" height="5.4" fill="#262626" stroke="#000" stroke-width="1"/>
<rect x="292.11" y="637.9" width="5.4" height="5.4" fill="#262626" stroke="#000" stroke-width="1"/>
<rect x="302.76" y="634.5" width="5.4" height="5.4" fill="#262626" stroke="#000" stroke-width="1"/>
<path d="M89.36 565L95.36 565M90.86 562.4L93.86 567.6M93.86 562.4L90.86 567.6" stroke="#222" stroke-width="1.3" fill="none"/>
<path d="M100.02 540.9L106.02 540.9M101.52 538.3L104.52 543.5M104.52 538.3L101.52 543.5" stroke="#222" stroke-width="1.3" fill="none"/>
<path d="M100.02 548.1L106.02 548.1M101.52 545.5L104.52 550.7M104.52 545.5L101.52 550.7" stroke="#222" stroke-width="1.3" fill="none"/>
<path d="M100.02 555.3L106.02 555.3M101.52 552.7L104.52 557.9M104.52 552.7L101.52 557.9" stroke="#222" stroke-width="1.3" fill="none"/>
<path d="M100.02 562.5L106.02 562.5M101.52 559.9L104.52 565.1M104.52 559.9L101.52 565.1" stroke="#222" stroke-width="1.3" fill="none"/>
<path d="M110.67 543.9L116.67 543.9M112.17 541.3L115.17 546.5M115.17 541.3L112.17 546.5" stroke="#222" stroke-width="1.3" fill="none"/>
<path d="M110.67 551.1L116.67 551.1M112.17 548.5L115.17 553.7M115.17 548.5L112.17 553.7" stroke="#222" stroke-width="1.3" fill="none"/>
<path d="M110.67 558.3L116.67 558.3M112.17 555.7L115.17 560.9M115.17 555.7L112.17 560.9" stroke="#222" stroke-width="1.3" fill="none"/>
<path d="M153.29 565.9L159.29 565.9M154.79 563.3L157.79 568.5M157.79 563.3L154.79 568.5" stroke="#222" stroke-width="1.3" fill="none"/>
<path d="M153.29 573.1L159.29 573.1M154.79 570.5L157.79 575.7M157.79 570.5L154.79 575.7" stroke="#222" stroke-width="1.3" fill="none"/>
<path d="M153.29 580.3L159.29 580.3M154.79 577.7L157.79 582.9M157.79 577.7L154.79 582.9" stroke="#222" stroke-width="1.3" fill="none"/>
<path d="M153.29 587.5L159.29 587.5M154.79 584.9L157.79 590.1M157.79 584.9L154.79 590.1" stroke="#222" stroke-width="1.3" fill="none"/>
<path d="M163.95 568.5L169.95 568.5M165.45 565.9L168.45 571.1M168.45 565.9L165.45 571.1" stroke="#222" stroke-width="1.3" fill="none"/>
<path d="M163.95 575.7L169.95 575.7M165.45 573.1L168.45 578.3M168.45 573.1L165.45 578.3" stroke="#222" stroke-width="1.3" fill="none"/>
<path d="M163.95 582.9L169.95 582.9M165.45 580.3L168.45 585.5M168.45 580.3L165.45 585.5" stroke="#222" stroke-width="1.3" fill="none"/>
<path d="M163.95 590.1L169.95 590.1M165.45 587.5L168.45 592.7M168.45 587.5L165.45 592.7" stroke="#222" stroke-width="1.3" fill="none"/>
<path d="M195.91 543.6L201.91 543.6M197.41 541L200.41 546.2M200.41 541L197.41 546.2" stroke="#222" stroke-width="1.3" fill="none"/>
<path d="M195.91 550.8L201.91 550.8M197.41 548.2L200.41 553.4M200.41 548.2L197.41 553.4" stroke="#222" stroke-width="1.3" fill="none"/>
<path d="M195.91 558L201.91 558M197.41 555.4L200.41 560.6M200.41 555.4L197.41 560.6" stroke="#222" stroke-width="1.3" fill="none"/>
<path d="M195.91 565.2L201.91 565.2M197.41 562.6L200.41 567.8M200.41 562.6L197.41 567.8" stroke="#222" stroke-width="1.3" fill="none"/>
<path d="M217.22 593.8L223.22 593.8M218.72 591.2L221.72 596.4M221.72 591.2L218.72 596.4" stroke="#222" stroke-width="1.3" fill="none"/>
<path d="M227.88 567.6L233.88 567.6M229.38 565L232.38 570.2M232.38 565L229.38 570.2" stroke="#222" stroke-width="1.3" fill="none"/>
<path d="M227.88 574.8L233.88 574.8M229.38 572.2L232.38 577.4M232.38 572.2L229.38 577.4" stroke="#222" stroke-width="1.3" fill="none"/>
<path d="M227.88 582L233.88 582M229.38 579.4L232.38 584.6M232.38 579.4L229.38 584.6" stroke="#222" stroke-width="1.3" fill="none"/>
<path d="M227.88 589.2L233.88 589.2M229.38 586.6L232.38 591.8M232.38 586.6L229.38 591.8" stroke="#222" stroke-width="1.3" fill="none"/>
<path d="M249.19 615L255.19 615M250.69 612.4L253.69 617.6M253.69 612.4L250.69 617.6" stroke="#222" stroke-width="1.3" fill="none"/>
<path d="M259.84 613.2L265.84 613.2M261.34 610.6L264.34 615.8M264.34 610.6L261.34 615.8" stroke="#222" stroke-width="1.3" fill="none"/>
<line x1="266.4" y1="547.6" x2="281.4" y2="547.6" stroke="#000" stroke-width="1.3"/>
<circle cx="273.9" cy="547.6" r="2.5" fill="#fff" stroke="#000" stroke-width="1.3"/>
<line x1="266.4" y1="562.3" x2="281.4" y2="562.3" stroke="#000" stroke-width="1.3"/>
<rect x="271.1" y="559.5" width="5.6" height="5.6" fill="#262626" stroke="#000" stroke-width="1"/>
<text x="290.5" y="551.9" font-size="12.3" text-anchor="start" font-weight="normal" fill="#000">Ctrl</text>
<text x="290.5" y="566.6" font-size="12.3" text-anchor="start" font-weight="normal" fill="#000">MS</text>
<text x="348" y="509.4" font-size="18" text-anchor="start" font-weight="bold" fill="#000">E</text>
<text x="401.8" y="516.3" font-size="15.5" text-anchor="start" font-weight="bold" fill="#000">Day4</text>
<text transform="translate(372.7 602) rotate(-90)" font-size="10.7" text-anchor="middle">Mean inter-individual distance (mm)</text>
<rect x="403.3" y="521.7" width="129.2" height="14.6" fill="#c8c8c8" stroke="#777" stroke-width="1.0"/>
<rect x="532.5" y="521.7" width="130.2" height="14.6" fill="#fff" stroke="#777" stroke-width="1.0"/>
<text x="468.1" y="533.3" font-size="10.6" text-anchor="middle" font-weight="normal" fill="#111">Dark phase</text>
<text x="597.6" y="533.3" font-size="10.6" text-anchor="middle" font-weight="normal" fill="#111">Light phase</text>
<line x1="402.7" y1="520.6" x2="402.7" y2="665.6" stroke="#000" stroke-width="1.3"/>
<line x1="402.1" y1="665" x2="662.3" y2="665" stroke="#000" stroke-width="1.3"/>
<line x1="398.7" y1="665" x2="402.7" y2="665" stroke="#000" stroke-width="1.2"/>
<text x="396.7" y="669.2" font-size="11.9" text-anchor="end" font-weight="normal" fill="#000">0</text>
<line x1="398.7" y1="629.05" x2="402.7" y2="629.05" stroke="#000" stroke-width="1.2"/>
<text x="396.7" y="633.25" font-size="11.9" text-anchor="end" font-weight="normal" fill="#000">100</text>
<line x1="398.7" y1="593.1" x2="402.7" y2="593.1" stroke="#000" stroke-width="1.2"/>
<text x="396.7" y="597.3" font-size="11.9" text-anchor="end" font-weight="normal" fill="#000">200</text>
<line x1="398.7" y1="557.15" x2="402.7" y2="557.15" stroke="#000" stroke-width="1.2"/>
<text x="396.7" y="561.35" font-size="11.9" text-anchor="end" font-weight="normal" fill="#000">300</text>
<line x1="398.7" y1="521.2" x2="402.7" y2="521.2" stroke="#000" stroke-width="1.2"/>
<text x="396.7" y="525.4" font-size="11.9" text-anchor="end" font-weight="normal" fill="#000">400</text>
<line x1="409.5" y1="665" x2="409.5" y2="668.6" stroke="#000" stroke-width="1.2"/>
<text x="409.5" y="682.5" font-size="12.5" text-anchor="middle" font-weight="normal" fill="#000">20</text>
<line x1="452.12" y1="665" x2="452.12" y2="668.6" stroke="#000" stroke-width="1.2"/>
<text x="452.12" y="682.5" font-size="12.5" text-anchor="middle" font-weight="normal" fill="#000">0</text>
<line x1="494.74" y1="665" x2="494.74" y2="668.6" stroke="#000" stroke-width="1.2"/>
<text x="494.74" y="682.5" font-size="12.5" text-anchor="middle" font-weight="normal" fill="#000">4</text>
<line x1="537.36" y1="665" x2="537.36" y2="668.6" stroke="#000" stroke-width="1.2"/>
<text x="537.36" y="682.5" font-size="12.5" text-anchor="middle" font-weight="normal" fill="#000">8</text>
<line x1="579.98" y1="665" x2="579.98" y2="668.6" stroke="#000" stroke-width="1.2"/>
<text x="579.98" y="682.5" font-size="12.5" text-anchor="middle" font-weight="normal" fill="#000">12</text>
<line x1="622.6" y1="665" x2="622.6" y2="668.6" stroke="#000" stroke-width="1.2"/>
<text x="622.6" y="682.5" font-size="12.5" text-anchor="middle" font-weight="normal" fill="#000">16</text>
<line x1="661.7" y1="665" x2="661.7" y2="668.6" stroke="#000" stroke-width="1.2"/>
<text x="661.7" y="682.5" font-size="12.5" text-anchor="middle" font-weight="normal" fill="#000">20</text>
<text x="531.9" y="696" font-size="12.1" text-anchor="middle" font-weight="normal" fill="#000">Clock time (hour)</text>
<line x1="484.08" y1="595.7" x2="484.08" y2="614.7" stroke="#000" stroke-width="1.2"/>
<line x1="481.28" y1="595.7" x2="486.88" y2="595.7" stroke="#000" stroke-width="1.2"/>
<line x1="481.28" y1="614.7" x2="486.88" y2="614.7" stroke="#000" stroke-width="1.2"/>
<line x1="494.74" y1="603.3" x2="494.74" y2="611.3" stroke="#000" stroke-width="1.2"/>
<line x1="491.94" y1="603.3" x2="497.54" y2="603.3" stroke="#000" stroke-width="1.2"/>
<line x1="491.94" y1="611.3" x2="497.54" y2="611.3" stroke="#000" stroke-width="1.2"/>
<line x1="505.39" y1="616.2" x2="505.39" y2="631" stroke="#000" stroke-width="1.2"/>
<line x1="502.59" y1="616.2" x2="508.19" y2="616.2" stroke="#000" stroke-width="1.2"/>
<line x1="502.59" y1="631" x2="508.19" y2="631" stroke="#000" stroke-width="1.2"/>
<line x1="548.01" y1="584.3" x2="548.01" y2="592.3" stroke="#000" stroke-width="1.2"/>
<line x1="545.22" y1="584.3" x2="550.81" y2="584.3" stroke="#000" stroke-width="1.2"/>
<line x1="545.22" y1="592.3" x2="550.81" y2="592.3" stroke="#000" stroke-width="1.2"/>
<line x1="569.33" y1="614.2" x2="569.33" y2="624.8" stroke="#000" stroke-width="1.2"/>
<line x1="566.53" y1="614.2" x2="572.12" y2="614.2" stroke="#000" stroke-width="1.2"/>
<line x1="566.53" y1="624.8" x2="572.12" y2="624.8" stroke="#000" stroke-width="1.2"/>
<polyline points="409.5,577 420.15,570.9 430.81,572.2 441.46,570.2 452.12,572.2 462.77,566.9 473.43,568.9 484.08,605.2 494.74,607.3 505.39,623.6 516.05,581 526.71,571 537.36,581 548.01,588.3 558.67,638.5 569.33,619.5 579.98,609.8 590.63,639.7 601.29,642.9 611.94,636 622.6,636.5 633.25,632.4 643.91,640.2 654.57,626.8" fill="none" stroke="#000" stroke-width="1.3"/>
<circle cx="409.5" cy="577" r="2.6" fill="#fff" stroke="#000" stroke-width="1.25"/>
<circle cx="420.15" cy="570.9" r="2.6" fill="#fff" stroke="#000" stroke-width="1.25"/>
<circle cx="430.81" cy="572.2" r="2.6" fill="#fff" stroke="#000" stroke-width="1.25"/>
<circle cx="441.46" cy="570.2" r="2.6" fill="#fff" stroke="#000" stroke-width="1.25"/>
<circle cx="452.12" cy="572.2" r="2.6" fill="#fff" stroke="#000" stroke-width="1.25"/>
<circle cx="462.77" cy="566.9" r="2.6" fill="#fff" stroke="#000" stroke-width="1.25"/>
<circle cx="473.43" cy="568.9" r="2.6" fill="#fff" stroke="#000" stroke-width="1.25"/>
<circle cx="484.08" cy="605.2" r="2.6" fill="#fff" stroke="#000" stroke-width="1.25"/>
<circle cx="494.74" cy="607.3" r="2.6" fill="#fff" stroke="#000" stroke-width="1.25"/>
<circle cx="505.39" cy="623.6" r="2.6" fill="#fff" stroke="#000" stroke-width="1.25"/>
<circle cx="516.05" cy="581" r="2.6" fill="#fff" stroke="#000" stroke-width="1.25"/>
<circle cx="526.71" cy="571" r="2.6" fill="#fff" stroke="#000" stroke-width="1.25"/>
<circle cx="537.36" cy="581" r="2.6" fill="#fff" stroke="#000" stroke-width="1.25"/>
<circle cx="548.01" cy="588.3" r="2.6" fill="#fff" stroke="#000" stroke-width="1.25"/>
<circle cx="558.67" cy="638.5" r="2.6" fill="#fff" stroke="#000" stroke-width="1.25"/>
<circle cx="569.33" cy="619.5" r="2.6" fill="#fff" stroke="#000" stroke-width="1.25"/>
<circle cx="579.98" cy="609.8" r="2.6" fill="#fff" stroke="#000" stroke-width="1.25"/>
<circle cx="590.63" cy="639.7" r="2.6" fill="#fff" stroke="#000" stroke-width="1.25"/>
<circle cx="601.29" cy="642.9" r="2.6" fill="#fff" stroke="#000" stroke-width="1.25"/>
<circle cx="611.94" cy="636" r="2.6" fill="#fff" stroke="#000" stroke-width="1.25"/>
<circle cx="622.6" cy="636.5" r="2.6" fill="#fff" stroke="#000" stroke-width="1.25"/>
<circle cx="633.25" cy="632.4" r="2.6" fill="#fff" stroke="#000" stroke-width="1.25"/>
<circle cx="643.91" cy="640.2" r="2.6" fill="#fff" stroke="#000" stroke-width="1.25"/>
<circle cx="654.57" cy="626.8" r="2.6" fill="#fff" stroke="#000" stroke-width="1.25"/>
<line x1="441.46" y1="571.6" x2="441.46" y2="583" stroke="#000" stroke-width="1.2"/>
<line x1="438.66" y1="571.6" x2="444.26" y2="571.6" stroke="#000" stroke-width="1.2"/>
<line x1="438.66" y1="583" x2="444.26" y2="583" stroke="#000" stroke-width="1.2"/>
<line x1="473.43" y1="566.9" x2="473.43" y2="574.9" stroke="#000" stroke-width="1.2"/>
<line x1="470.63" y1="566.9" x2="476.23" y2="566.9" stroke="#000" stroke-width="1.2"/>
<line x1="470.63" y1="574.9" x2="476.23" y2="574.9" stroke="#000" stroke-width="1.2"/>
<line x1="484.08" y1="569.8" x2="484.08" y2="579.8" stroke="#000" stroke-width="1.2"/>
<line x1="481.28" y1="569.8" x2="486.88" y2="569.8" stroke="#000" stroke-width="1.2"/>
<line x1="481.28" y1="579.8" x2="486.88" y2="579.8" stroke="#000" stroke-width="1.2"/>
<line x1="494.74" y1="580.8" x2="494.74" y2="597.4" stroke="#000" stroke-width="1.2"/>
<line x1="491.94" y1="580.8" x2="497.54" y2="580.8" stroke="#000" stroke-width="1.2"/>
<line x1="491.94" y1="597.4" x2="497.54" y2="597.4" stroke="#000" stroke-width="1.2"/>
<line x1="505.39" y1="607.4" x2="505.39" y2="617.4" stroke="#000" stroke-width="1.2"/>
<line x1="502.59" y1="607.4" x2="508.19" y2="607.4" stroke="#000" stroke-width="1.2"/>
<line x1="502.59" y1="617.4" x2="508.19" y2="617.4" stroke="#000" stroke-width="1.2"/>
<line x1="516.05" y1="584.2" x2="516.05" y2="599" stroke="#000" stroke-width="1.2"/>
<line x1="513.25" y1="584.2" x2="518.85" y2="584.2" stroke="#000" stroke-width="1.2"/>
<line x1="513.25" y1="599" x2="518.85" y2="599" stroke="#000" stroke-width="1.2"/>
<line x1="548.01" y1="609.2" x2="548.01" y2="627.2" stroke="#000" stroke-width="1.2"/>
<line x1="545.22" y1="609.2" x2="550.81" y2="609.2" stroke="#000" stroke-width="1.2"/>
<line x1="545.22" y1="627.2" x2="550.81" y2="627.2" stroke="#000" stroke-width="1.2"/>
<line x1="633.25" y1="618.9" x2="633.25" y2="628.9" stroke="#000" stroke-width="1.2"/>
<line x1="630.46" y1="618.9" x2="636.05" y2="618.9" stroke="#000" stroke-width="1.2"/>
<line x1="630.46" y1="628.9" x2="636.05" y2="628.9" stroke="#000" stroke-width="1.2"/>
<polyline points="409.5,585.4 420.15,565.6 430.81,566.4 441.46,577.3 452.12,565.6 462.77,565.8 473.43,570.9 484.08,574.8 494.74,589.1 505.39,612.4 516.05,591.6 526.71,571 537.36,587.8 548.01,618.2 558.67,635.6 569.33,630.5 579.98,638.5 590.63,647 601.29,636 611.94,636 622.6,637.3 633.25,623.9 643.91,647 654.57,639.2" fill="none" stroke="#000" stroke-width="1.3"/>
<rect x="406.8" y="582.7" width="5.4" height="5.4" fill="#262626" stroke="#000" stroke-width="1"/>
<rect x="417.45" y="562.9" width="5.4" height="5.4" fill="#262626" stroke="#000" stroke-width="1"/>
<rect x="428.11" y="563.7" width="5.4" height="5.4" fill="#262626" stroke="#000" stroke-width="1"/>
<rect x="438.76" y="574.6" width="5.4" height="5.4" fill="#262626" stroke="#000" stroke-width="1"/>
<rect x="449.42" y="562.9" width="5.4" height="5.4" fill="#262626" stroke="#000" stroke-width="1"/>
<rect x="460.07" y="563.1" width="5.4" height="5.4" fill="#262626" stroke="#000" stroke-width="1"/>
<rect x="470.73" y="568.2" width="5.4" height="5.4" fill="#262626" stroke="#000" stroke-width="1"/>
<rect x="481.38" y="572.1" width="5.4" height="5.4" fill="#262626" stroke="#000" stroke-width="1"/>
<rect x="492.04" y="586.4" width="5.4" height="5.4" fill="#262626" stroke="#000" stroke-width="1"/>
<rect x="502.69" y="609.7" width="5.4" height="5.4" fill="#262626" stroke="#000" stroke-width="1"/>
<rect x="513.35" y="588.9" width="5.4" height="5.4" fill="#262626" stroke="#000" stroke-width="1"/>
<rect x="524" y="568.3" width="5.4" height="5.4" fill="#262626" stroke="#000" stroke-width="1"/>
<rect x="534.66" y="585.1" width="5.4" height="5.4" fill="#262626" stroke="#000" stroke-width="1"/>
<rect x="545.31" y="615.5" width="5.4" height="5.4" fill="#262626" stroke="#000" stroke-width="1"/>
<rect x="555.97" y="632.9" width="5.4" height="5.4" fill="#262626" stroke="#000" stroke-width="1"/>
<rect x="566.62" y="627.8" width="5.4" height="5.4" fill="#262626" stroke="#000" stroke-width="1"/>
<rect x="577.28" y="635.8" width="5.4" height="5.4" fill="#262626" stroke="#000" stroke-width="1"/>
<rect x="587.93" y="644.3" width="5.4" height="5.4" fill="#262626" stroke="#000" stroke-width="1"/>
<rect x="598.59" y="633.3" width="5.4" height="5.4" fill="#262626" stroke="#000" stroke-width="1"/>
<rect x="609.24" y="633.3" width="5.4" height="5.4" fill="#262626" stroke="#000" stroke-width="1"/>
<rect x="619.9" y="634.6" width="5.4" height="5.4" fill="#262626" stroke="#000" stroke-width="1"/>
<rect x="630.55" y="621.2" width="5.4" height="5.4" fill="#262626" stroke="#000" stroke-width="1"/>
<rect x="641.21" y="644.3" width="5.4" height="5.4" fill="#262626" stroke="#000" stroke-width="1"/>
<rect x="651.87" y="636.5" width="5.4" height="5.4" fill="#262626" stroke="#000" stroke-width="1"/>
<path d="M481.08 541.8L487.08 541.8M482.58 539.2L485.58 544.4M485.58 539.2L482.58 544.4" stroke="#222" stroke-width="1.3" fill="none"/>
<path d="M481.08 549L487.08 549M482.58 546.4L485.58 551.6M485.58 546.4L482.58 551.6" stroke="#222" stroke-width="1.3" fill="none"/>
<path d="M481.08 556.2L487.08 556.2M482.58 553.6L485.58 558.8M485.58 553.6L482.58 558.8" stroke="#222" stroke-width="1.3" fill="none"/>
<path d="M481.08 563.4L487.08 563.4M482.58 560.8L485.58 566M485.58 560.8L482.58 566" stroke="#222" stroke-width="1.3" fill="none"/>
<path d="M491.74 560.3L497.74 560.3M493.24 557.7L496.24 562.9M496.24 557.7L493.24 562.9" stroke="#222" stroke-width="1.3" fill="none"/>
<path d="M491.74 567.5L497.74 567.5M493.24 564.9L496.24 570.1M496.24 564.9L493.24 570.1" stroke="#222" stroke-width="1.3" fill="none"/>
<path d="M491.74 574.7L497.74 574.7M493.24 572.1L496.24 577.3M496.24 572.1L493.24 577.3" stroke="#222" stroke-width="1.3" fill="none"/>
<path d="M545.01 555.9L551.01 555.9M546.51 553.3L549.51 558.5M549.51 553.3L546.51 558.5" stroke="#222" stroke-width="1.3" fill="none"/>
<path d="M545.01 563.1L551.01 563.1M546.51 560.5L549.51 565.7M549.51 560.5L546.51 565.7" stroke="#222" stroke-width="1.3" fill="none"/>
<path d="M545.01 570.3L551.01 570.3M546.51 567.7L549.51 572.9M549.51 567.7L546.51 572.9" stroke="#222" stroke-width="1.3" fill="none"/>
<path d="M545.01 577.5L551.01 577.5M546.51 574.9L549.51 580.1M549.51 574.9L546.51 580.1" stroke="#222" stroke-width="1.3" fill="none"/>
<path d="M576.98 580.2L582.98 580.2M578.48 577.6L581.48 582.8M581.48 577.6L578.48 582.8" stroke="#222" stroke-width="1.3" fill="none"/>
<path d="M576.98 587.4L582.98 587.4M578.48 584.8L581.48 590M581.48 584.8L578.48 590" stroke="#222" stroke-width="1.3" fill="none"/>
<path d="M576.98 594.6L582.98 594.6M578.48 592L581.48 597.2M581.48 592L578.48 597.2" stroke="#222" stroke-width="1.3" fill="none"/>
<path d="M576.98 601.8L582.98 601.8M578.48 599.2L581.48 604.4M581.48 599.2L578.48 604.4" stroke="#222" stroke-width="1.3" fill="none"/>
<line x1="615.5" y1="547.6" x2="630.5" y2="547.6" stroke="#000" stroke-width="1.3"/>
<circle cx="623" cy="547.6" r="2.5" fill="#fff" stroke="#000" stroke-width="1.3"/>
<line x1="615.5" y1="562.3" x2="630.5" y2="562.3" stroke="#000" stroke-width="1.3"/>
<rect x="620.2" y="559.5" width="5.6" height="5.6" fill="#262626" stroke="#000" stroke-width="1"/>
<text x="639.6" y="551.9" font-size="12.3" text-anchor="start" font-weight="normal" fill="#000">Ctrl</text>
<text x="639.6" y="566.6" font-size="12.3" text-anchor="start" font-weight="normal" fill="#000">MS</text>
</svg>
</body></html>
